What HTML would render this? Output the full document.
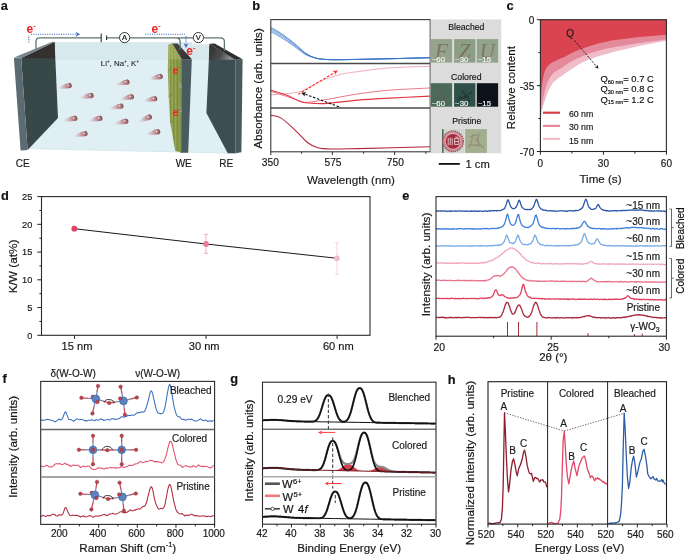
<!DOCTYPE html>
<html><head><meta charset="utf-8"><style>
html,body{margin:0;padding:0;background:#fff;}
svg{display:block;font-family:"Liberation Sans", sans-serif;-webkit-font-smoothing:antialiased;}
text{stroke:currentColor;stroke-width:0.18px;}
body{will-change:transform;}
</style></head><body>
<svg width="685" height="556" viewBox="0 0 685 556">
<rect x="0" y="0" width="685" height="556" fill="#fff"/>
<text x="0.80" y="10.00" font-size="12.8" text-anchor="start" font-weight="bold" fill="#111" style="color:#111" >a</text>
<defs>
<linearGradient id="ion" x1="-12" y1="0" x2="2.6" y2="0" gradientUnits="userSpaceOnUse">
<stop offset="0" stop-color="#d8a8b0" stop-opacity="0"/>
<stop offset="0.45" stop-color="#c48c94" stop-opacity="0.6"/>
<stop offset="0.75" stop-color="#b27a80"/>
<stop offset="1" stop-color="#9a6464"/>
</linearGradient>
<radialGradient id="ionh" cx="0.5" cy="0.5" r="0.5">
<stop offset="0" stop-color="#fff" stop-opacity="0.9"/>
<stop offset="1" stop-color="#fff" stop-opacity="0"/>
</radialGradient>
<linearGradient id="retop" x1="0" y1="0" x2="1" y2="0.3">
<stop offset="0" stop-color="#2e2c2c"/>
<stop offset="0.6" stop-color="#4a4c4c"/>
<stop offset="1" stop-color="#8a9696"/>
</linearGradient>
<linearGradient id="film" x1="167.8" y1="0" x2="182" y2="0" gradientUnits="userSpaceOnUse">
<stop offset="0" stop-color="#93a050"/>
<stop offset="0.12" stop-color="#a4b060"/>
<stop offset="0.2" stop-color="#7f8e44"/>
<stop offset="0.32" stop-color="#9cab58"/>
<stop offset="0.42" stop-color="#788a40"/>
<stop offset="0.55" stop-color="#98a854"/>
<stop offset="0.68" stop-color="#7a8a42"/>
<stop offset="0.8" stop-color="#92a250"/>
<stop offset="1" stop-color="#6c7c3a"/>
</linearGradient>
<linearGradient id="wetop" x1="0" y1="0" x2="1" y2="0">
<stop offset="0" stop-color="#4a4a42"/>
<stop offset="1" stop-color="#2c2c2c"/>
</linearGradient>
</defs>
<polygon points="54.60,42.20 192.00,42.20 192.00,44.50 210.00,44.50 236.00,59.70 236.00,153.50 27.60,148.90 58.00,118.00" fill="#e0eff3" />
<polygon points="54.60,42.20 192.00,42.20 192.00,44.50 210.00,44.50 236.00,59.20 54.80,59.20" fill="#d8e9ee" />
<line x1="55.00" y1="59.10" x2="236.00" y2="59.10" stroke="#cfe6ec" stroke-width="0.8" />
<line x1="27.60" y1="148.60" x2="236.00" y2="153.20" stroke="#d4e8ee" stroke-width="0.8" />
<polygon points="21.20,58.20 54.60,42.00 58.00,118.00 27.60,150.10" fill="#384849" />
<polygon points="21.20,58.20 54.60,42.00 54.90,58.20" fill="#33302f" />
<polygon points="13.90,57.90 21.20,58.20 27.60,150.10 20.60,150.50" fill="#5b6b71" />
<polygon points="13.90,57.60 52.30,41.80 54.60,42.00 21.20,58.00" fill="#77858a" />
<g transform="translate(69.0,85.7) rotate(-9)"><path d="M-12,0.9 Q-5,-2.8 0,-2.6 A2.6,2.6 0 1 1 0,2.6 Q-5,2.7 -12,0.9 Z" fill="url(#ion)"/><path d="M0.8,-2.4 A2.6,2.6 0 0 1 0.8,2.4" stroke="#6a4640" stroke-width="0.9" fill="none" opacity="0.75"/><circle cx="-1.0" cy="-0.6" r="1.4" fill="url(#ionh)"/></g>
<g transform="translate(126.8,82.2) rotate(-9)"><path d="M-12,0.9 Q-5,-2.8 0,-2.6 A2.6,2.6 0 1 1 0,2.6 Q-5,2.7 -12,0.9 Z" fill="url(#ion)"/><path d="M0.8,-2.4 A2.6,2.6 0 0 1 0.8,2.4" stroke="#6a4640" stroke-width="0.9" fill="none" opacity="0.75"/><circle cx="-1.0" cy="-0.6" r="1.4" fill="url(#ionh)"/></g>
<g transform="translate(160.1,76.6) rotate(-9)"><path d="M-12,0.9 Q-5,-2.8 0,-2.6 A2.6,2.6 0 1 1 0,2.6 Q-5,2.7 -12,0.9 Z" fill="url(#ion)"/><path d="M0.8,-2.4 A2.6,2.6 0 0 1 0.8,2.4" stroke="#6a4640" stroke-width="0.9" fill="none" opacity="0.75"/><circle cx="-1.0" cy="-0.6" r="1.4" fill="url(#ionh)"/></g>
<g transform="translate(90.9,95.6) rotate(-9)"><path d="M-12,0.9 Q-5,-2.8 0,-2.6 A2.6,2.6 0 1 1 0,2.6 Q-5,2.7 -12,0.9 Z" fill="url(#ion)"/><path d="M0.8,-2.4 A2.6,2.6 0 0 1 0.8,2.4" stroke="#6a4640" stroke-width="0.9" fill="none" opacity="0.75"/><circle cx="-1.0" cy="-0.6" r="1.4" fill="url(#ionh)"/></g>
<g transform="translate(131.2,96.9) rotate(-9)"><path d="M-12,0.9 Q-5,-2.8 0,-2.6 A2.6,2.6 0 1 1 0,2.6 Q-5,2.7 -12,0.9 Z" fill="url(#ion)"/><path d="M0.8,-2.4 A2.6,2.6 0 0 1 0.8,2.4" stroke="#6a4640" stroke-width="0.9" fill="none" opacity="0.75"/><circle cx="-1.0" cy="-0.6" r="1.4" fill="url(#ionh)"/></g>
<g transform="translate(154.5,98.8) rotate(-9)"><path d="M-12,0.9 Q-5,-2.8 0,-2.6 A2.6,2.6 0 1 1 0,2.6 Q-5,2.7 -12,0.9 Z" fill="url(#ion)"/><path d="M0.8,-2.4 A2.6,2.6 0 0 1 0.8,2.4" stroke="#6a4640" stroke-width="0.9" fill="none" opacity="0.75"/><circle cx="-1.0" cy="-0.6" r="1.4" fill="url(#ionh)"/></g>
<g transform="translate(120.7,106.2) rotate(-9)"><path d="M-12,0.9 Q-5,-2.8 0,-2.6 A2.6,2.6 0 1 1 0,2.6 Q-5,2.7 -12,0.9 Z" fill="url(#ion)"/><path d="M0.8,-2.4 A2.6,2.6 0 0 1 0.8,2.4" stroke="#6a4640" stroke-width="0.9" fill="none" opacity="0.75"/><circle cx="-1.0" cy="-0.6" r="1.4" fill="url(#ionh)"/></g>
<g transform="translate(74.6,118.4) rotate(-9)"><path d="M-12,0.9 Q-5,-2.8 0,-2.6 A2.6,2.6 0 1 1 0,2.6 Q-5,2.7 -12,0.9 Z" fill="url(#ion)"/><path d="M0.8,-2.4 A2.6,2.6 0 0 1 0.8,2.4" stroke="#6a4640" stroke-width="0.9" fill="none" opacity="0.75"/><circle cx="-1.0" cy="-0.6" r="1.4" fill="url(#ionh)"/></g>
<g transform="translate(99.7,118.4) rotate(-9)"><path d="M-12,0.9 Q-5,-2.8 0,-2.6 A2.6,2.6 0 1 1 0,2.6 Q-5,2.7 -12,0.9 Z" fill="url(#ion)"/><path d="M0.8,-2.4 A2.6,2.6 0 0 1 0.8,2.4" stroke="#6a4640" stroke-width="0.9" fill="none" opacity="0.75"/><circle cx="-1.0" cy="-0.6" r="1.4" fill="url(#ionh)"/></g>
<g transform="translate(125.6,121.4) rotate(-9)"><path d="M-12,0.9 Q-5,-2.8 0,-2.6 A2.6,2.6 0 1 1 0,2.6 Q-5,2.7 -12,0.9 Z" fill="url(#ion)"/><path d="M0.8,-2.4 A2.6,2.6 0 0 1 0.8,2.4" stroke="#6a4640" stroke-width="0.9" fill="none" opacity="0.75"/><circle cx="-1.0" cy="-0.6" r="1.4" fill="url(#ionh)"/></g>
<g transform="translate(149.2,117.2) rotate(-20)"><path d="M-12,0.9 Q-5,-2.8 0,-2.6 A2.6,2.6 0 1 1 0,2.6 Q-5,2.7 -12,0.9 Z" fill="url(#ion)"/><path d="M0.8,-2.4 A2.6,2.6 0 0 1 0.8,2.4" stroke="#6a4640" stroke-width="0.9" fill="none" opacity="0.75"/><circle cx="-1.0" cy="-0.6" r="1.4" fill="url(#ionh)"/></g>
<g transform="translate(84.8,133.7) rotate(-9)"><path d="M-12,0.9 Q-5,-2.8 0,-2.6 A2.6,2.6 0 1 1 0,2.6 Q-5,2.7 -12,0.9 Z" fill="url(#ion)"/><path d="M0.8,-2.4 A2.6,2.6 0 0 1 0.8,2.4" stroke="#6a4640" stroke-width="0.9" fill="none" opacity="0.75"/><circle cx="-1.0" cy="-0.6" r="1.4" fill="url(#ionh)"/></g>
<g transform="translate(157.5,131.9) rotate(-9)"><path d="M-12,0.9 Q-5,-2.8 0,-2.6 A2.6,2.6 0 1 1 0,2.6 Q-5,2.7 -12,0.9 Z" fill="url(#ion)"/><path d="M0.8,-2.4 A2.6,2.6 0 0 1 0.8,2.4" stroke="#6a4640" stroke-width="0.9" fill="none" opacity="0.75"/><circle cx="-1.0" cy="-0.6" r="1.4" fill="url(#ionh)"/></g>
<polygon points="182.00,59.80 191.80,59.30 188.20,152.70 180.40,152.70" fill="#4a5b60" />
<polygon points="171.30,43.50 177.60,43.40 191.80,59.30 182.00,59.80" fill="url(#wetop)" />
<polygon points="168.30,44.40 172.60,43.90 182.00,59.80 181.60,152.50 175.20,151.00 170.20,122.00 168.60,96.00 167.80,70.00" fill="url(#film)" />
<polygon points="168.30,44.40 172.60,43.90 182.00,59.80 181.60,59.30 168.20,59.30" fill="#b4bc70" opacity="0.45"/>
<path d="M168.4,70.5 l3.2,-2.4 M168.6,96.5 l3.6,-2.6 M170.2,122.5 l3.4,-2.4" stroke="#5e6e2e" stroke-width="0.8" fill="none" opacity="0.8"/>
<path d="M179.5,83 l1.5,5 M179.5,107 l1.5,5" stroke="#b0b8b8" stroke-width="1.1" fill="none" opacity="0.7"/>
<polygon points="209.60,44.00 235.40,59.70 235.40,153.30 227.80,153.30 206.40,113.00" fill="#3d4e52" />
<polygon points="209.60,44.00 235.40,59.70 208.90,59.70" fill="url(#retop)" />
<polygon points="235.40,59.70 242.60,59.30 241.40,152.20 235.40,153.30" fill="#485a5e" />
<polygon points="209.60,43.80 214.60,43.40 242.60,59.30 235.40,59.80" fill="#2e2e2e" />
<path d="M36,49 V41.5 Q36,37.8 39.8,37.8 H101.2 M106.6,37.8 H119.5 M129.7,37.8 H176 Q180.1,37.8 180.1,42 V50 M176,37.8 H193 M203.8,37.8 H220.5 Q224.4,37.8 224.4,41.7 V51" stroke="#5f7474" stroke-width="1.3" fill="none"/>
<line x1="101.20" y1="33.40" x2="101.20" y2="42.20" stroke="#333" stroke-width="1.1" />
<line x1="106.60" y1="35.60" x2="106.60" y2="40.00" stroke="#333" stroke-width="1.1" />
<circle cx="124.6" cy="37.6" r="5.1" fill="#fff" stroke="#222" stroke-width="0.9"/>
<text x="124.6" y="40.4" font-size="7.6" text-anchor="middle" fill="#111">A</text>
<circle cx="198.4" cy="37.6" r="5.1" fill="#fff" stroke="#222" stroke-width="0.9"/>
<text x="198.4" y="40.4" font-size="7.6" text-anchor="middle" fill="#111">V</text>
<path d="M28.8,42.5 V35.2 M31,34.3 H76" stroke="#3f6fbf" stroke-width="1.1" fill="none" stroke-dasharray="1.1,1.2"/>
<polygon points="80.20,34.30 75.50,31.80 76.80,34.30 75.50,36.80" fill="#3f6fbf" />
<path d="M145.1,34.3 H185 M186,36 V43.5" stroke="#3f6fbf" stroke-width="1.1" fill="none" stroke-dasharray="1.1,1.2"/>
<polygon points="186.00,48.00 183.60,43.30 186.00,44.50 188.40,43.30" fill="#3f6fbf" />
<text x="26.6" y="33.3" font-size="12" font-weight="bold" fill="#ee2222" style="stroke:none">e<tspan font-size="7.2" dy="-5.0">-</tspan></text>
<text x="151.6" y="32.5" font-size="12" font-weight="bold" fill="#ee2222" style="stroke:none">e<tspan font-size="7.2" dy="-5.0">-</tspan></text>
<text x="186.2" y="55.2" font-size="12" font-weight="bold" fill="#ee2222" style="stroke:none">e<tspan font-size="7.2" dy="-5.0">-</tspan></text>
<text x="172.4" y="73.8" font-size="11" font-weight="bold" fill="#ee2222" style="stroke:none">e<tspan font-size="6.6" dy="-4.6">-</tspan></text>
<text x="172.4" y="115.8" font-size="11" font-weight="bold" fill="#ee2222" style="stroke:none">e<tspan font-size="6.6" dy="-4.6">-</tspan></text>
<text x="100.8" y="66.3" font-size="7.9" fill="#222" style="stroke-width:0.08px">Li<tspan font-size="4.5" dy="-3">+</tspan><tspan dy="3">, Na</tspan><tspan font-size="4.5" dy="-3">+</tspan><tspan dy="3">, K</tspan><tspan font-size="4.5" dy="-3">+</tspan></text>
<text x="15.80" y="166.70" font-size="10" text-anchor="start" font-weight="normal" fill="#1a1a1a" style="color:#1a1a1a" >CE</text>
<text x="183.70" y="166.90" font-size="10" text-anchor="middle" font-weight="normal" fill="#1a1a1a" style="color:#1a1a1a" >WE</text>
<text x="226.30" y="166.90" font-size="10" text-anchor="middle" font-weight="normal" fill="#1a1a1a" style="color:#1a1a1a" >RE</text>
<text x="252.30" y="9.80" font-size="12.8" text-anchor="start" font-weight="bold" fill="#111" style="color:#111" >b</text>
<path d="M270.90,31.80 C272.60,32.74 277.20,35.04 281.10,37.46 C285.00,39.88 290.35,43.55 294.30,46.33 C298.25,49.10 301.73,52.31 304.80,54.13 C307.87,55.95 310.07,56.42 312.70,57.24 C315.33,58.05 317.10,58.59 320.60,59.00 C324.10,59.41 327.47,59.63 333.70,59.70 C339.93,59.77 347.78,59.58 358.00,59.40 C368.22,59.22 383.02,58.88 395.00,58.60 C406.98,58.32 424.08,57.85 429.90,57.70" fill="none" stroke="#4a84d0" stroke-width="0.8" />
<path d="M270.90,30.40 C272.60,31.36 277.20,33.65 281.10,36.14 C285.00,38.63 290.35,42.43 294.30,45.34 C298.25,48.25 301.73,51.63 304.80,53.60 C307.87,55.57 310.07,56.26 312.70,57.16 C315.33,58.06 317.10,58.58 320.60,59.00 C324.10,59.42 327.47,59.63 333.70,59.70 C339.93,59.77 347.78,59.58 358.00,59.40 C368.22,59.22 383.02,58.88 395.00,58.60 C406.98,58.32 424.08,57.85 429.90,57.70" fill="none" stroke="#5a90d6" stroke-width="0.8" />
<path d="M270.90,28.95 C272.60,29.92 277.20,32.21 281.10,34.77 C285.00,37.33 290.35,41.27 294.30,44.32 C298.25,47.37 301.73,50.92 304.80,53.05 C307.87,55.18 310.07,56.09 312.70,57.08 C315.33,58.07 317.10,58.56 320.60,59.00 C324.10,59.44 327.47,59.63 333.70,59.70 C339.93,59.77 347.78,59.58 358.00,59.40 C368.22,59.22 383.02,58.88 395.00,58.60 C406.98,58.32 424.08,57.85 429.90,57.70" fill="none" stroke="#4a86d0" stroke-width="0.8" />
<path d="M270.90,27.50 C272.60,28.48 277.20,30.77 281.10,33.40 C285.00,36.03 290.35,40.12 294.30,43.30 C298.25,46.48 301.73,50.22 304.80,52.50 C307.87,54.78 310.07,55.92 312.70,57.00 C315.33,58.08 317.10,58.55 320.60,59.00 C324.10,59.45 327.47,59.63 333.70,59.70 C339.93,59.77 347.78,59.58 358.00,59.40 C368.22,59.22 383.02,58.88 395.00,58.60 C406.98,58.32 424.08,57.85 429.90,57.70" fill="none" stroke="#2f6cbf" stroke-width="0.8" />
<path d="M270.90,94.80 C273.70,94.58 282.48,94.15 287.70,93.50 C292.92,92.85 296.72,92.98 302.20,90.90 C307.68,88.82 314.25,83.73 320.60,81.00 C326.95,78.27 334.07,76.07 340.30,74.50 C346.53,72.93 349.82,72.70 358.00,71.60 C366.18,70.50 377.42,68.78 389.40,67.90 C401.38,67.02 423.15,66.57 429.90,66.30" fill="none" stroke="#f2a9b8" stroke-width="1.0" />
<path d="M270.90,91.50 C273.70,92.38 282.70,95.15 287.70,96.80 C292.70,98.45 297.62,100.48 300.90,101.40 C304.18,102.32 303.03,102.63 307.40,102.30 C311.77,101.97 318.67,100.80 327.10,99.40 C335.53,98.00 347.62,95.43 358.00,93.90 C368.38,92.37 377.42,91.18 389.40,90.20 C401.38,89.22 423.15,88.37 429.90,88.00" fill="none" stroke="#e8788c" stroke-width="1.0" />
<path d="M270.90,90.20 C273.70,91.08 282.70,93.57 287.70,95.50 C292.70,97.43 296.52,100.48 300.90,101.80 C305.28,103.12 309.63,103.13 314.00,103.40 C318.37,103.67 319.77,103.95 327.10,103.40 C334.43,102.85 347.62,100.98 358.00,100.10 C368.38,99.22 377.42,98.77 389.40,98.10 C401.38,97.43 423.15,96.43 429.90,96.10" fill="none" stroke="#e2343f" stroke-width="1.1" />
<path d="M270.90,115.20 C272.60,115.68 277.20,115.75 281.10,118.10 C285.00,120.45 289.92,125.23 294.30,129.30 C298.68,133.37 303.47,139.43 307.40,142.50 C311.33,145.57 313.95,146.62 317.90,147.70 C321.85,148.78 324.42,148.85 331.10,149.00 C337.78,149.15 341.53,148.97 358.00,148.60 C374.47,148.23 417.92,147.10 429.90,146.80" fill="none" stroke="#b0283a" stroke-width="1.1" />
<line x1="298.20" y1="94.40" x2="333.94" y2="72.92" stroke="#ff2a2a" stroke-width="1.1" stroke-dasharray="2.6,1.6"/>
<polygon points="337.80,70.60 335.08,74.80 334.71,72.45 332.81,71.03" fill="#ff2a2a" />
<line x1="339.00" y1="106.80" x2="305.52" y2="94.37" stroke="#111" stroke-width="1.1" stroke-dasharray="2.6,1.6"/>
<polygon points="301.30,92.80 306.28,92.30 304.67,94.05 304.75,96.43" fill="#111" />
<rect x="270.8" y="19.6" width="159.39999999999998" height="132.20000000000002" fill="none" stroke="#3a3a3a" stroke-width="1.1"/>
<line x1="270.80" y1="63.50" x2="430.20" y2="63.50" stroke="#4a4a4a" stroke-width="1.6" />
<line x1="270.80" y1="108.00" x2="430.20" y2="108.00" stroke="#4a4a4a" stroke-width="1.6" />
<line x1="270.80" y1="151.80" x2="270.80" y2="155.00" stroke="#333" stroke-width="1" />
<line x1="332.40" y1="151.80" x2="332.40" y2="155.00" stroke="#333" stroke-width="1" />
<line x1="394.60" y1="151.80" x2="394.60" y2="155.00" stroke="#333" stroke-width="1" />
<line x1="301.60" y1="151.80" x2="301.60" y2="153.80" stroke="#333" stroke-width="1" />
<line x1="363.50" y1="151.80" x2="363.50" y2="153.80" stroke="#333" stroke-width="1" />
<line x1="425.80" y1="151.80" x2="425.80" y2="153.80" stroke="#333" stroke-width="1" />
<text x="270.30" y="165.60" font-size="10.2" text-anchor="middle" font-weight="normal" fill="#1a1a1a" style="color:#1a1a1a" >350</text>
<text x="333.00" y="165.60" font-size="10.2" text-anchor="middle" font-weight="normal" fill="#1a1a1a" style="color:#1a1a1a" >575</text>
<text x="395.30" y="165.60" font-size="10.2" text-anchor="middle" font-weight="normal" fill="#1a1a1a" style="color:#1a1a1a" >750</text>
<text x="351.00" y="183.60" font-size="11.6" text-anchor="middle" font-weight="normal" fill="#1a1a1a" style="color:#1a1a1a" >Wavelength (nm)</text>
<text transform="translate(262.20,88.50) rotate(-90)" font-size="11.6" text-anchor="middle" fill="#1a1a1a">Absorbance (arb. units)</text>
<rect x="430.6" y="19.4" width="70.6" height="133.9" fill="#dcdcdc"/>
<text x="466.30" y="29.80" font-size="8.7" text-anchor="middle" font-weight="normal" fill="#1a1a1a" style="color:#1a1a1a" >Bleached</text>
<text x="466.30" y="79.50" font-size="8.7" text-anchor="middle" font-weight="normal" fill="#1a1a1a" style="color:#1a1a1a" >Colored</text>
<text x="466.80" y="123.90" font-size="8.7" text-anchor="middle" font-weight="normal" fill="#1a1a1a" style="color:#1a1a1a" >Pristine</text>
<rect x="430.8" y="39.1" width="21.3" height="23.5" fill="#94a48c"/>
<text x="441.40000000000003" y="58" font-size="21" text-anchor="middle" font-family="Liberation Serif" font-style="italic" fill="#76604f" fill-opacity="0.7" style="stroke:none">F</text>
<text x="431.80" y="61.60" font-size="7.8" text-anchor="start" font-weight="normal" fill="#f6f6f6" style="color:#f6f6f6" >~60</text>
<rect x="454.1" y="39.1" width="21.3" height="23.5" fill="#8c9e86"/>
<text x="464.70000000000005" y="58" font-size="21" text-anchor="middle" font-family="Liberation Serif" font-style="italic" fill="#76604f" fill-opacity="0.7" style="stroke:none">Z</text>
<text x="455.10" y="61.60" font-size="7.8" text-anchor="start" font-weight="normal" fill="#f6f6f6" style="color:#f6f6f6" >~30</text>
<rect x="476.8" y="39.1" width="21.3" height="23.5" fill="#92a38c"/>
<text x="487.40000000000003" y="58" font-size="21" text-anchor="middle" font-family="Liberation Serif" font-style="italic" fill="#76604f" fill-opacity="0.7" style="stroke:none">U</text>
<text x="477.80" y="61.60" font-size="7.8" text-anchor="start" font-weight="normal" fill="#f6f6f6" style="color:#f6f6f6" >~15</text>
<rect x="430.8" y="83.2" width="21.3" height="23.5" fill="#4b6a58"/>
<text x="431.80" y="105.60" font-size="7.8" text-anchor="start" font-weight="normal" fill="#f6f6f6" style="color:#f6f6f6" >~60</text>
<rect x="454.1" y="83.2" width="21.3" height="23.5" fill="#2f5048"/>
<text x="455.10" y="105.60" font-size="7.8" text-anchor="start" font-weight="normal" fill="#f6f6f6" style="color:#f6f6f6" >~30</text>
<rect x="476.8" y="83.2" width="21.3" height="23.5" fill="#0b121a"/>
<text x="477.80" y="105.60" font-size="7.8" text-anchor="start" font-weight="normal" fill="#f6f6f6" style="color:#f6f6f6" >~15</text>
<path d="M437,100 q3,-10 7,-12 M436,94 q6,2 9,8 M441,90 q2,6 6,10" stroke="#6a5a50" stroke-width="1.1" fill="none" opacity="0.45"/>
<path d="M458,100 q8,-4 14,-8 M462,90 q4,6 8,12 M459,97 q6,2 10,-1" stroke="#1c2c28" stroke-width="1.4" fill="none" opacity="0.6"/>
<rect x="442" y="129.1" width="21.9" height="23.8" fill="#cdd6cf"/>
<rect x="442" y="129.1" width="1.6" height="23.8" fill="#556a5e"/>
<circle cx="453" cy="141.3" r="10.4" fill="#c98a94"/>
<circle cx="453" cy="141.3" r="10.4" fill="none" stroke="#a83848" stroke-width="1.2" stroke-dasharray="1.2,1"/>
<circle cx="453" cy="141.3" r="8.2" fill="#dcb8bd"/>
<circle cx="453" cy="141.3" r="7.4" fill="#a42a3c"/>
<path d="M448.2,138 v7.2 M450.2,137.4 v7.8 M452.2,138 v7.2 M454.6,138.6 h4.2 v5.8 h-4.2z M454.6,141.5 h4.2 M455.2,137.2 h3" stroke="#f2e4e4" stroke-width="0.8" fill="none"/>
<rect x="465.2" y="129.1" width="21.7" height="23.8" fill="#a3ae8f"/>
<path d="M470,137 q6,-3 10,-1 M473,134 q-1,8 -4,14 M476,138 q2,6 8,10 M479,133 q-2,8 0,12 M468,146 q6,-2 12,0" stroke="#8a6c60" stroke-width="1.3" fill="none" opacity="0.45"/>
<line x1="438.80" y1="163.90" x2="459.80" y2="163.90" stroke="#111" stroke-width="1.8" />
<text x="465.50" y="167.60" font-size="11.2" text-anchor="start" font-weight="normal" fill="#1a1a1a" style="color:#1a1a1a" >1 cm</text>
<text x="506.60" y="10.00" font-size="12.8" text-anchor="start" font-weight="bold" fill="#111" style="color:#111" >c</text>
<path d="M666.40,40.80 C661.17,41.82 645.23,44.67 635.00,46.90 C624.77,49.13 613.27,51.85 605.00,54.20 C596.73,56.55 590.77,58.67 585.40,61.00 C580.03,63.33 576.53,65.88 572.80,68.20 C569.07,70.52 566.10,72.68 563.00,74.90 C559.90,77.12 556.38,79.32 554.20,81.50 C552.02,83.68 551.17,85.68 549.90,88.00 C548.63,90.32 547.60,92.82 546.60,95.40 C545.60,97.98 544.70,100.72 543.90,103.50 C543.10,106.28 542.35,109.35 541.80,112.10 C541.25,114.85 540.80,118.68 540.60,120.00 L540.4,19.7 L666.4,19.7 Z" fill="#f0bcc8"/>
<path d="M666.40,39.60 C661.17,40.30 645.23,42.22 635.00,43.80 C624.77,45.38 613.27,47.23 605.00,49.10 C596.73,50.97 590.77,53.05 585.40,55.00 C580.03,56.95 576.53,58.82 572.80,60.80 C569.07,62.78 566.10,64.95 563.00,66.90 C559.90,68.85 556.57,70.40 554.20,72.50 C551.83,74.60 550.25,76.83 548.80,79.50 C547.35,82.17 546.50,85.03 545.50,88.50 C544.50,91.97 543.52,96.90 542.80,100.30 C542.08,103.70 541.57,106.78 541.20,108.90 C540.83,111.02 540.70,112.32 540.60,113.00 L540.4,19.7 L666.4,19.7 Z" fill="#e58a9c"/>
<path d="M666.40,34.80 C661.17,35.27 645.23,36.42 635.00,37.60 C624.77,38.78 613.27,40.27 605.00,41.90 C596.73,43.53 590.77,45.65 585.40,47.40 C580.03,49.15 576.53,50.70 572.80,52.40 C569.07,54.10 566.10,56.07 563.00,57.60 C559.90,59.13 556.57,60.38 554.20,61.60 C551.83,62.82 550.25,63.58 548.80,64.90 C547.35,66.22 546.40,67.57 545.50,69.50 C544.60,71.43 544.02,73.53 543.40,76.50 C542.78,79.47 542.20,84.05 541.80,87.30 C541.40,90.55 541.20,93.88 541.00,96.00 C540.80,98.12 540.67,99.33 540.60,100.00 L540.4,19.7 L666.4,19.7 Z" fill="#da4450"/>
<rect x="540.4" y="19.7" width="126.0" height="131.8" fill="none" stroke="#2a2a2a" stroke-width="1.1"/>
<line x1="536.90" y1="19.70" x2="540.40" y2="19.70" stroke="#222" stroke-width="1" />
<text x="534.20" y="23.90" font-size="10" text-anchor="end" font-weight="normal" fill="#1a1a1a" style="color:#1a1a1a" >0</text>
<line x1="536.90" y1="85.60" x2="540.40" y2="85.60" stroke="#222" stroke-width="1" />
<text x="534.20" y="89.80" font-size="10" text-anchor="end" font-weight="normal" fill="#1a1a1a" style="color:#1a1a1a" >-35</text>
<line x1="536.90" y1="151.50" x2="540.40" y2="151.50" stroke="#222" stroke-width="1" />
<text x="534.20" y="155.70" font-size="10" text-anchor="end" font-weight="normal" fill="#1a1a1a" style="color:#1a1a1a" >-70</text>
<line x1="538.40" y1="52.60" x2="540.40" y2="52.60" stroke="#222" stroke-width="1" />
<line x1="538.40" y1="118.50" x2="540.40" y2="118.50" stroke="#222" stroke-width="1" />
<line x1="540.40" y1="151.50" x2="540.40" y2="154.70" stroke="#222" stroke-width="1" />
<text x="540.40" y="167.00" font-size="10" text-anchor="middle" font-weight="normal" fill="#1a1a1a" style="color:#1a1a1a" >0</text>
<line x1="603.40" y1="151.50" x2="603.40" y2="154.70" stroke="#222" stroke-width="1" />
<text x="603.40" y="167.00" font-size="10" text-anchor="middle" font-weight="normal" fill="#1a1a1a" style="color:#1a1a1a" >30</text>
<line x1="666.40" y1="151.50" x2="666.40" y2="154.70" stroke="#222" stroke-width="1" />
<text x="666.40" y="167.00" font-size="10" text-anchor="middle" font-weight="normal" fill="#1a1a1a" style="color:#1a1a1a" >60</text>
<line x1="571.90" y1="151.50" x2="571.90" y2="153.50" stroke="#222" stroke-width="1" />
<line x1="634.90" y1="151.50" x2="634.90" y2="153.50" stroke="#222" stroke-width="1" />
<text x="600.50" y="182.80" font-size="11.6" text-anchor="middle" font-weight="normal" fill="#1a1a1a" style="color:#1a1a1a" >Time (s)</text>
<text x="515.3" y="87.6" font-size="11.6" text-anchor="middle" fill="#1a1a1a" transform="rotate(-90 515.3 87.6)">Relative content</text>
<text x="566.30" y="37.00" font-size="10" text-anchor="start" font-weight="normal" fill="#1a1a1a" style="color:#1a1a1a" >Q</text>
<line x1="574.50" y1="40.50" x2="596.04" y2="65.90" stroke="#111" stroke-width="0.9" stroke-dasharray="2,1.4"/>
<polygon points="598.50,68.80 594.67,67.07 596.62,66.59 597.42,64.74" fill="#111" />
<text x="600.4" y="81.9" font-size="9.4" fill="#1a1a1a">Q<tspan font-size="5.6" dy="1.6">60 nm</tspan><tspan dy="-1.6">= 0.7 C</tspan></text>
<text x="600.4" y="92.2" font-size="9.4" fill="#1a1a1a">Q<tspan font-size="5.6" dy="1.6">30 nm</tspan><tspan dy="-1.6">= 0.8 C</tspan></text>
<text x="600.4" y="102.7" font-size="9.4" fill="#1a1a1a">Q<tspan font-size="5.6" dy="1.6">15 nm</tspan><tspan dy="-1.6">= 1.2 C</tspan></text>
<line x1="543.00" y1="112.70" x2="560.00" y2="112.70" stroke="#d8404c" stroke-width="2.2" />
<text x="568.90" y="116.70" font-size="8.8" text-anchor="start" font-weight="normal" fill="#1a1a1a" style="color:#1a1a1a" >60 nm</text>
<line x1="543.00" y1="125.90" x2="560.00" y2="125.90" stroke="#e8899a" stroke-width="2.2" />
<text x="568.90" y="129.80" font-size="8.8" text-anchor="start" font-weight="normal" fill="#1a1a1a" style="color:#1a1a1a" >30 nm</text>
<line x1="543.00" y1="138.90" x2="560.00" y2="138.90" stroke="#f2bcc8" stroke-width="2.2" />
<text x="568.90" y="144.20" font-size="8.8" text-anchor="start" font-weight="normal" fill="#1a1a1a" style="color:#1a1a1a" >15 nm</text>
<text x="0.90" y="200.30" font-size="12.8" text-anchor="start" font-weight="bold" fill="#111" style="color:#111" >d</text>
<rect x="41.5" y="196.6" width="328.5" height="138.70000000000002" fill="none" stroke="#2a2a2a" stroke-width="1.1"/>
<line x1="37.30" y1="196.60" x2="41.50" y2="196.60" stroke="#222" stroke-width="1" />
<text x="32.30" y="199.90" font-size="9.2" text-anchor="end" font-weight="normal" fill="#1a1a1a" style="color:#1a1a1a" >25</text>
<line x1="37.30" y1="224.34" x2="41.50" y2="224.34" stroke="#222" stroke-width="1" />
<text x="32.30" y="227.64" font-size="9.2" text-anchor="end" font-weight="normal" fill="#1a1a1a" style="color:#1a1a1a" >20</text>
<line x1="37.30" y1="252.08" x2="41.50" y2="252.08" stroke="#222" stroke-width="1" />
<text x="32.30" y="255.38" font-size="9.2" text-anchor="end" font-weight="normal" fill="#1a1a1a" style="color:#1a1a1a" >15</text>
<line x1="37.30" y1="279.82" x2="41.50" y2="279.82" stroke="#222" stroke-width="1" />
<text x="32.30" y="283.12" font-size="9.2" text-anchor="end" font-weight="normal" fill="#1a1a1a" style="color:#1a1a1a" >10</text>
<line x1="37.30" y1="307.56" x2="41.50" y2="307.56" stroke="#222" stroke-width="1" />
<text x="32.30" y="310.86" font-size="9.2" text-anchor="end" font-weight="normal" fill="#1a1a1a" style="color:#1a1a1a" >5</text>
<line x1="37.30" y1="335.30" x2="41.50" y2="335.30" stroke="#222" stroke-width="1" />
<text x="32.30" y="338.60" font-size="9.2" text-anchor="end" font-weight="normal" fill="#1a1a1a" style="color:#1a1a1a" >0</text>
<line x1="39.40" y1="210.47" x2="41.50" y2="210.47" stroke="#222" stroke-width="1" />
<line x1="39.40" y1="238.21" x2="41.50" y2="238.21" stroke="#222" stroke-width="1" />
<line x1="39.40" y1="265.95" x2="41.50" y2="265.95" stroke="#222" stroke-width="1" />
<line x1="39.40" y1="293.69" x2="41.50" y2="293.69" stroke="#222" stroke-width="1" />
<line x1="39.40" y1="321.43" x2="41.50" y2="321.43" stroke="#222" stroke-width="1" />
<line x1="74.50" y1="335.30" x2="74.50" y2="338.90" stroke="#222" stroke-width="1" />
<text x="77.00" y="350.30" font-size="11.1" text-anchor="middle" font-weight="normal" fill="#1a1a1a" style="color:#1a1a1a" >15 nm</text>
<line x1="206.00" y1="335.30" x2="206.00" y2="338.90" stroke="#222" stroke-width="1" />
<text x="204.20" y="350.30" font-size="11.1" text-anchor="middle" font-weight="normal" fill="#1a1a1a" style="color:#1a1a1a" >30 nm</text>
<line x1="337.10" y1="335.30" x2="337.10" y2="338.90" stroke="#222" stroke-width="1" />
<text x="338.30" y="350.30" font-size="11.1" text-anchor="middle" font-weight="normal" fill="#1a1a1a" style="color:#1a1a1a" >60 nm</text>
<text transform="translate(16.60,266.40) rotate(-90)" font-size="11.8" text-anchor="middle" fill="#1a1a1a">K/W (at%)</text>
<polyline points="74.30,228.70 206.00,244.00 334.50,258.00" fill="none" stroke="#1a1a1a" stroke-width="1.0" stroke-linejoin="round" />
<line x1="206.00" y1="234.40" x2="206.00" y2="253.30" stroke="#eca0b2" stroke-width="0.8" />
<line x1="204.10" y1="234.40" x2="207.90" y2="234.40" stroke="#eca0b2" stroke-width="0.9" />
<line x1="204.10" y1="253.30" x2="207.90" y2="253.30" stroke="#eca0b2" stroke-width="0.9" />
<line x1="336.90" y1="242.70" x2="336.90" y2="274.20" stroke="#f4cad6" stroke-width="0.8" />
<line x1="335.00" y1="242.70" x2="338.80" y2="242.70" stroke="#f4cad6" stroke-width="0.9" />
<line x1="335.00" y1="274.20" x2="338.80" y2="274.20" stroke="#f4cad6" stroke-width="0.9" />
<circle cx="74.3" cy="228.7" r="2.9" fill="#dc4562"/>
<circle cx="206" cy="244" r="2.9" fill="#e6809a"/>
<circle cx="336.9" cy="258.3" r="2.9" fill="#eebcca"/>
<text x="402.20" y="200.30" font-size="12.8" text-anchor="start" font-weight="bold" fill="#111" style="color:#111" >e</text>
<polyline points="436.00,211.05 436.70,210.93 437.40,211.28 438.10,210.88 438.80,211.20 439.50,211.08 440.20,210.86 440.90,211.18 441.60,210.85 442.30,211.13 443.00,210.87 443.70,210.89 444.40,211.12 445.10,211.40 445.80,210.91 446.50,210.98 447.20,211.26 447.90,211.48 448.60,211.22 449.30,211.09 450.00,211.50 450.70,210.85 451.40,211.42 452.10,211.02 452.80,210.91 453.50,210.90 454.20,211.03 454.90,211.38 455.60,210.94 456.30,211.22 457.00,211.26 457.70,211.07 458.40,211.19 459.10,210.85 459.80,210.85 460.50,210.95 461.20,211.28 461.90,211.10 462.60,211.02 463.30,211.21 464.00,211.12 464.70,211.01 465.40,211.35 466.10,211.28 466.80,210.96 467.50,211.19 468.20,211.16 468.90,211.40 469.60,211.30 470.30,210.98 471.00,211.47 471.70,210.86 472.40,211.07 473.10,211.30 473.80,210.88 474.50,211.11 475.20,210.79 475.90,211.23 476.60,211.30 477.30,211.16 478.00,211.37 478.70,210.97 479.40,211.23 480.10,211.16 480.80,211.14 481.50,211.05 482.20,211.32 482.90,211.38 483.60,211.05 484.30,211.17 485.00,210.75 485.70,211.19 486.40,211.14 487.10,211.37 487.80,211.24 488.50,210.86 489.20,210.92 489.90,211.10 490.60,210.64 491.30,210.93 492.00,210.70 492.70,210.65 493.40,210.59 494.10,211.06 494.80,210.58 495.50,210.63 496.20,210.69 496.90,210.98 497.60,210.38 498.30,210.57 499.00,210.56 499.70,210.70 500.40,210.54 501.10,210.42 501.80,209.81 502.50,209.64 503.20,209.25 503.90,209.11 504.60,208.43 505.30,206.77 506.00,205.16 506.70,202.93 507.40,200.54 508.10,199.79 508.80,201.31 509.50,203.46 510.20,205.27 510.90,206.90 511.60,207.70 512.30,208.33 513.00,208.84 513.70,208.71 514.40,208.45 515.10,208.18 515.80,207.60 516.50,206.15 517.20,205.15 517.90,202.85 518.60,200.74 519.30,200.19 520.00,201.64 520.70,204.05 521.40,205.78 522.10,207.48 522.80,207.96 523.50,208.54 524.20,209.03 524.90,209.26 525.60,209.56 526.30,209.47 527.00,209.49 527.70,209.61 528.40,209.54 529.10,209.65 529.80,209.28 530.50,209.68 531.20,209.20 531.90,208.45 532.60,207.89 533.30,207.01 534.00,205.62 534.70,203.42 535.40,201.42 536.10,199.55 536.80,199.38 537.50,201.56 538.20,203.80 538.90,205.77 539.60,207.30 540.30,208.17 541.00,209.19 541.70,209.18 542.40,209.40 543.10,210.29 543.80,210.18 544.50,210.06 545.20,210.45 545.90,210.17 546.60,210.60 547.30,210.97 548.00,210.94 548.70,210.87 549.40,210.60 550.10,210.71 550.80,210.59 551.50,211.04 552.20,210.89 552.90,211.08 553.60,210.78 554.30,210.72 555.00,211.14 555.70,211.27 556.40,211.19 557.10,211.16 557.80,211.17 558.50,211.12 559.20,210.77 559.90,210.97 560.60,210.86 561.30,210.63 562.00,210.63 562.70,210.81 563.40,210.79 564.10,211.09 564.80,211.27 565.50,210.91 566.20,211.24 566.90,211.27 567.60,211.24 568.30,210.81 569.00,210.70 569.70,210.68 570.40,210.64 571.10,210.63 571.80,210.90 572.50,211.06 573.20,210.98 573.90,210.69 574.60,210.76 575.30,210.80 576.00,210.23 576.70,210.54 577.40,210.61 578.10,210.38 578.80,210.18 579.50,209.77 580.20,209.25 580.90,209.27 581.60,208.37 582.30,207.88 583.00,206.81 583.70,204.70 584.40,202.43 585.10,200.44 585.80,199.17 586.50,199.87 587.20,202.17 587.90,204.43 588.60,206.62 589.30,207.70 590.00,208.00 590.70,208.99 591.40,209.43 592.10,209.40 592.80,209.27 593.50,209.39 594.20,208.95 594.90,208.55 595.60,208.66 596.30,207.52 597.00,206.10 597.70,205.00 598.40,204.34 599.10,205.80 599.80,207.31 600.50,208.07 601.20,208.90 601.90,209.45 602.60,209.77 603.30,210.25 604.00,210.20 604.70,210.44 605.40,210.33 606.10,210.95 606.80,210.62 607.50,210.74 608.20,210.86 608.90,211.12 609.60,210.80 610.30,211.16 611.00,210.88 611.70,210.91 612.40,210.91 613.10,210.55 613.80,210.85 614.50,210.66 615.20,210.52 615.90,211.06 616.60,210.60 617.30,210.79 618.00,210.94 618.70,210.80 619.40,210.60 620.10,210.70 620.80,210.69 621.50,210.81 622.20,210.30 622.90,210.57 623.60,210.31 624.30,210.28 625.00,210.58 625.70,210.35 626.40,210.34 627.10,210.43 627.80,210.49 628.50,210.12 629.20,210.20 629.90,210.08 630.60,210.06 631.30,210.15 632.00,209.96 632.70,210.00 633.40,209.94 634.10,210.26 634.80,210.09 635.50,210.21 636.20,210.27 636.90,209.80 637.60,210.03 638.30,210.33 639.00,210.29 639.70,209.83 640.40,209.86 641.10,210.12 641.80,209.91 642.50,210.07 643.20,210.00 643.90,210.47 644.60,210.60 645.30,210.74 646.00,210.27 646.70,210.71 647.40,210.72 648.10,210.41 648.80,210.97 649.50,211.08 650.20,210.59 650.90,211.15 651.60,210.80 652.30,210.89 653.00,211.28 653.70,211.20 654.40,210.75 655.10,210.97 655.80,211.05 656.50,210.94 657.20,210.86 657.90,210.96 658.60,211.26 659.30,210.78 660.00,211.16 660.70,211.09 661.40,210.80 662.10,211.03 662.80,211.24 663.50,211.17 664.20,210.86 664.90,211.50 665.60,211.37 666.30,211.50" fill="none" stroke="#2a5aa6" stroke-width="1.3" stroke-linejoin="round" />
<polyline points="436.00,228.69 436.70,228.81 437.40,228.65 438.10,229.16 438.80,228.81 439.50,228.71 440.20,228.91 440.90,229.25 441.60,229.19 442.30,228.80 443.00,228.72 443.70,229.26 444.40,229.01 445.10,229.10 445.80,228.67 446.50,228.65 447.20,229.09 447.90,228.91 448.60,228.66 449.30,229.26 450.00,229.05 450.70,229.17 451.40,228.66 452.10,229.20 452.80,228.65 453.50,229.21 454.20,228.92 454.90,228.84 455.60,228.98 456.30,229.25 457.00,228.78 457.70,228.68 458.40,228.96 459.10,228.76 459.80,228.67 460.50,228.70 461.20,228.62 461.90,228.73 462.60,228.80 463.30,228.80 464.00,229.11 464.70,228.78 465.40,228.93 466.10,228.70 466.80,228.81 467.50,228.58 468.20,228.74 468.90,228.57 469.60,229.07 470.30,228.94 471.00,228.69 471.70,228.89 472.40,229.20 473.10,228.62 473.80,229.12 474.50,228.84 475.20,228.88 475.90,229.11 476.60,228.80 477.30,228.88 478.00,229.00 478.70,229.20 479.40,228.74 480.10,229.08 480.80,228.99 481.50,228.93 482.20,228.76 482.90,228.71 483.60,228.50 484.30,228.54 485.00,228.49 485.70,228.95 486.40,228.60 487.10,228.52 487.80,228.45 488.50,228.96 489.20,228.97 489.90,228.81 490.60,228.51 491.30,228.46 492.00,228.47 492.70,228.55 493.40,228.31 494.10,228.47 494.80,228.30 495.50,228.73 496.20,228.68 496.90,228.31 497.60,228.01 498.30,228.41 499.00,227.82 499.70,227.69 500.40,227.24 501.10,227.25 501.80,226.96 502.50,226.52 503.20,225.65 503.90,224.93 504.60,223.21 505.30,221.39 506.00,218.53 506.70,215.79 507.40,214.08 508.10,215.39 508.80,218.40 509.50,220.94 510.20,223.01 510.90,224.13 511.60,224.96 512.30,225.23 513.00,225.32 513.70,225.22 514.40,224.34 515.10,223.34 515.80,222.27 516.50,219.40 517.20,216.93 517.90,214.62 518.60,214.46 519.30,217.57 520.00,220.55 520.70,222.66 521.40,224.31 522.10,225.43 522.80,225.68 523.50,226.44 524.20,226.77 524.90,227.23 525.60,227.36 526.30,227.46 527.00,227.32 527.70,227.52 528.40,227.29 529.10,227.16 529.80,226.62 530.50,226.15 531.20,225.74 531.90,225.21 532.60,224.01 533.30,223.02 534.00,220.67 534.70,217.97 535.40,215.47 536.10,214.95 536.80,216.73 537.50,219.24 538.20,222.28 538.90,224.05 539.60,225.13 540.30,226.02 541.00,226.72 541.70,226.74 542.40,227.54 543.10,227.45 543.80,227.52 544.50,227.81 545.20,228.26 545.90,227.99 546.60,228.45 547.30,228.68 548.00,228.40 548.70,228.37 549.40,228.48 550.10,228.66 550.80,228.75 551.50,228.67 552.20,228.72 552.90,228.34 553.60,228.41 554.30,228.50 555.00,228.86 555.70,228.56 556.40,228.76 557.10,228.38 557.80,228.42 558.50,228.57 559.20,228.86 559.90,228.88 560.60,228.87 561.30,228.60 562.00,228.76 562.70,228.72 563.40,228.72 564.10,228.48 564.80,229.02 565.50,228.53 566.20,229.06 566.90,229.03 567.60,228.38 568.30,228.67 569.00,228.91 569.70,229.00 570.40,228.62 571.10,228.47 571.80,228.40 572.50,228.88 573.20,228.33 573.90,228.54 574.60,228.17 575.30,228.37 576.00,228.58 576.70,227.89 577.40,228.23 578.10,227.83 578.80,227.86 579.50,227.41 580.20,226.64 580.90,226.52 581.60,225.41 582.30,224.01 583.00,222.70 583.70,221.85 584.40,221.31 585.10,221.72 585.80,222.81 586.50,224.24 587.20,225.30 587.90,226.49 588.60,226.50 589.30,227.46 590.00,227.85 590.70,227.58 591.40,228.33 592.10,228.33 592.80,228.58 593.50,228.24 594.20,228.37 594.90,228.45 595.60,228.92 596.30,228.68 597.00,228.56 597.70,228.63 598.40,228.55 599.10,228.42 599.80,228.47 600.50,229.00 601.20,228.64 601.90,229.10 602.60,228.63 603.30,228.65 604.00,228.83 604.70,228.62 605.40,228.75 606.10,229.16 606.80,229.11 607.50,229.06 608.20,228.93 608.90,229.13 609.60,229.14 610.30,228.86 611.00,228.97 611.70,228.49 612.40,228.96 613.10,228.74 613.80,228.94 614.50,228.84 615.20,228.56 615.90,228.37 616.60,228.96 617.30,228.36 618.00,228.57 618.70,228.44 619.40,228.36 620.10,228.62 620.80,228.74 621.50,228.19 622.20,228.41 622.90,228.11 623.60,228.23 624.30,228.06 625.00,227.84 625.70,227.78 626.40,227.76 627.10,228.19 627.80,227.85 628.50,227.61 629.20,228.04 629.90,228.06 630.60,227.64 631.30,227.39 632.00,227.40 632.70,227.30 633.40,227.46 634.10,227.28 634.80,227.38 635.50,227.40 636.20,227.63 636.90,227.87 637.60,227.80 638.30,227.59 639.00,227.63 639.70,227.75 640.40,227.69 641.10,227.72 641.80,227.58 642.50,227.78 643.20,228.32 643.90,227.79 644.60,228.12 645.30,228.27 646.00,228.49 646.70,228.09 647.40,228.19 648.10,228.23 648.80,228.39 649.50,228.47 650.20,228.87 650.90,228.84 651.60,228.90 652.30,228.35 653.00,228.39 653.70,228.89 654.40,229.05 655.10,228.79 655.80,228.89 656.50,228.50 657.20,228.79 657.90,229.18 658.60,229.13 659.30,229.16 660.00,229.25 660.70,228.76 661.40,228.67 662.10,228.71 662.80,228.97 663.50,229.09 664.20,229.27 664.90,229.12 665.60,229.07 666.30,229.16" fill="none" stroke="#3d7fda" stroke-width="1.3" stroke-linejoin="round" />
<polyline points="436.00,245.95 436.70,246.01 437.40,245.65 438.10,246.17 438.80,245.79 439.50,246.27 440.20,246.08 440.90,245.84 441.60,245.71 442.30,245.80 443.00,246.07 443.70,246.11 444.40,245.70 445.10,245.67 445.80,245.99 446.50,246.03 447.20,245.89 447.90,245.77 448.60,246.04 449.30,245.62 450.00,245.83 450.70,245.94 451.40,246.29 452.10,246.07 452.80,246.23 453.50,245.95 454.20,245.78 454.90,245.78 455.60,246.28 456.30,246.10 457.00,245.82 457.70,245.62 458.40,245.95 459.10,246.08 459.80,245.90 460.50,245.78 461.20,246.07 461.90,246.25 462.60,245.76 463.30,245.62 464.00,245.83 464.70,245.89 465.40,246.07 466.10,245.73 466.80,246.15 467.50,246.11 468.20,245.94 468.90,245.73 469.60,246.26 470.30,245.80 471.00,246.15 471.70,245.74 472.40,245.73 473.10,246.10 473.80,245.78 474.50,246.23 475.20,245.91 475.90,245.69 476.60,245.71 477.30,245.85 478.00,246.02 478.70,246.21 479.40,245.64 480.10,245.81 480.80,245.68 481.50,246.21 482.20,245.62 482.90,245.55 483.60,245.55 484.30,245.78 485.00,246.12 485.70,246.10 486.40,245.99 487.10,246.17 487.80,246.11 488.50,245.67 489.20,245.56 489.90,246.07 490.60,245.92 491.30,245.40 492.00,245.83 492.70,245.60 493.40,245.57 494.10,245.51 494.80,245.36 495.50,245.20 496.20,245.35 496.90,245.34 497.60,245.69 498.30,245.02 499.00,245.50 499.70,244.83 500.40,244.75 501.10,244.84 501.80,244.51 502.50,243.78 503.20,242.85 503.90,242.16 504.60,240.62 505.30,238.92 506.00,236.07 506.70,235.01 507.40,236.48 508.10,238.12 508.80,240.37 509.50,242.02 510.20,242.84 510.90,242.85 511.60,243.11 512.30,243.21 513.00,243.72 513.70,242.97 514.40,242.79 515.10,242.03 515.80,240.26 516.50,238.21 517.20,236.43 517.90,235.07 518.60,235.99 519.30,238.63 520.00,240.41 520.70,241.83 521.40,242.60 522.10,243.76 522.80,244.29 523.50,244.38 524.20,244.79 524.90,244.27 525.60,244.49 526.30,244.68 527.00,245.00 527.70,244.94 528.40,244.43 529.10,244.15 529.80,244.01 530.50,243.67 531.20,243.39 531.90,242.01 532.60,241.16 533.30,239.26 534.00,237.01 534.70,235.18 535.40,235.24 536.10,237.04 536.80,239.33 537.50,241.16 538.20,242.70 538.90,243.06 539.60,243.72 540.30,244.52 541.00,244.46 541.70,244.56 542.40,244.70 543.10,245.20 543.80,245.14 544.50,245.68 545.20,245.68 545.90,245.81 546.60,245.35 547.30,245.26 548.00,245.30 548.70,245.61 549.40,245.78 550.10,245.62 550.80,245.49 551.50,245.63 552.20,245.79 552.90,245.84 553.60,245.90 554.30,245.97 555.00,245.85 555.70,245.48 556.40,245.98 557.10,245.60 557.80,245.80 558.50,245.66 559.20,245.92 559.90,245.54 560.60,245.57 561.30,245.57 562.00,245.50 562.70,246.00 563.40,245.78 564.10,245.60 564.80,245.64 565.50,246.04 566.20,245.69 566.90,245.48 567.60,245.87 568.30,245.74 569.00,245.96 569.70,245.31 570.40,245.54 571.10,245.74 571.80,245.72 572.50,245.72 573.20,245.05 573.90,245.16 574.60,244.95 575.30,244.90 576.00,245.32 576.70,244.88 577.40,244.92 578.10,244.27 578.80,244.27 579.50,243.51 580.20,242.74 580.90,242.22 581.60,241.08 582.30,238.77 583.00,236.95 583.70,234.84 584.40,233.61 585.10,234.64 585.80,236.56 586.50,238.74 587.20,240.46 587.90,241.90 588.60,242.78 589.30,243.04 590.00,243.29 590.70,243.76 591.40,244.13 592.10,243.81 592.80,243.81 593.50,243.51 594.20,243.50 594.90,242.62 595.60,241.19 596.30,239.79 597.00,238.83 597.70,239.09 598.40,240.51 599.10,241.62 599.80,242.80 600.50,243.94 601.20,244.26 601.90,244.52 602.60,244.79 603.30,245.43 604.00,245.11 604.70,245.40 605.40,245.33 606.10,245.44 606.80,245.81 607.50,245.95 608.20,245.54 608.90,245.46 609.60,245.86 610.30,245.52 611.00,245.40 611.70,246.04 612.40,245.73 613.10,246.02 613.80,245.74 614.50,246.09 615.20,245.80 615.90,245.60 616.60,245.51 617.30,245.89 618.00,245.96 618.70,246.16 619.40,245.59 620.10,245.97 620.80,245.79 621.50,245.89 622.20,245.65 622.90,245.75 623.60,245.92 624.30,246.20 625.00,245.64 625.70,245.91 626.40,246.13 627.10,246.25 627.80,245.71 628.50,245.66 629.20,246.24 629.90,246.26 630.60,245.92 631.30,245.62 632.00,246.23 632.70,245.86 633.40,246.22 634.10,246.03 634.80,246.17 635.50,245.71 636.20,246.15 636.90,245.75 637.60,245.88 638.30,246.19 639.00,246.18 639.70,245.73 640.40,245.76 641.10,245.88 641.80,245.97 642.50,245.88 643.20,245.69 643.90,245.78 644.60,246.12 645.30,246.24 646.00,245.64 646.70,246.01 647.40,246.14 648.10,245.64 648.80,246.20 649.50,245.70 650.20,246.04 650.90,246.00 651.60,246.06 652.30,245.83 653.00,245.91 653.70,246.03 654.40,245.92 655.10,246.08 655.80,245.93 656.50,245.93 657.20,245.64 657.90,246.06 658.60,245.97 659.30,245.79 660.00,246.16 660.70,246.17 661.40,245.95 662.10,245.75 662.80,245.96 663.50,245.70 664.20,245.72 664.90,245.93 665.60,245.69 666.30,245.94" fill="none" stroke="#79abe6" stroke-width="1.3" stroke-linejoin="round" />
<polyline points="436.00,263.01 436.70,262.68 437.40,263.10 438.10,262.72 438.80,263.18 439.50,263.22 440.20,263.03 440.90,262.72 441.60,263.04 442.30,262.95 443.00,263.36 443.70,262.79 444.40,263.30 445.10,263.40 445.80,263.22 446.50,263.28 447.20,262.85 447.90,263.41 448.60,263.07 449.30,263.40 450.00,263.38 450.70,262.85 451.40,263.29 452.10,263.40 452.80,262.80 453.50,263.00 454.20,263.29 454.90,262.87 455.60,263.40 456.30,262.96 457.00,263.35 457.70,262.88 458.40,263.14 459.10,263.43 459.80,262.94 460.50,262.98 461.20,263.16 461.90,263.03 462.60,262.84 463.30,262.94 464.00,262.93 464.70,263.48 465.40,263.30 466.10,263.46 466.80,262.95 467.50,263.39 468.20,262.92 468.90,263.21 469.60,263.29 470.30,263.10 471.00,263.46 471.70,263.24 472.40,263.25 473.10,263.46 473.80,262.91 474.50,263.53 475.20,263.26 475.90,263.09 476.60,263.35 477.30,262.96 478.00,263.44 478.70,263.12 479.40,262.93 480.10,263.17 480.80,262.89 481.50,262.64 482.20,262.97 482.90,262.40 483.60,262.84 484.30,262.34 485.00,262.49 485.70,262.59 486.40,262.17 487.10,262.06 487.80,261.64 488.50,261.23 489.20,261.04 489.90,260.90 490.60,260.98 491.30,260.59 492.00,260.37 492.70,260.34 493.40,259.49 494.10,259.22 494.80,259.16 495.50,258.34 496.20,257.92 496.90,257.73 497.60,257.10 498.30,256.79 499.00,256.19 499.70,255.90 500.40,255.35 501.10,254.50 501.80,254.19 502.50,253.48 503.20,252.63 503.90,252.57 504.60,251.48 505.30,250.82 506.00,250.21 506.70,250.06 507.40,249.74 508.10,249.25 508.80,248.61 509.50,248.22 510.20,247.83 510.90,248.15 511.60,248.05 512.30,247.96 513.00,248.31 513.70,248.41 514.40,249.08 515.10,249.35 515.80,249.50 516.50,250.52 517.20,250.54 517.90,251.55 518.60,252.17 519.30,252.79 520.00,253.42 520.70,254.68 521.40,254.90 522.10,256.03 522.80,257.02 523.50,257.16 524.20,257.87 524.90,258.78 525.60,259.29 526.30,259.92 527.00,260.54 527.70,260.54 528.40,261.03 529.10,261.39 529.80,261.53 530.50,262.40 531.20,262.57 531.90,262.73 532.60,262.42 533.30,263.16 534.00,263.22 534.70,263.13 535.40,263.42 536.10,263.29 536.80,263.19 537.50,263.16 538.20,263.29 538.90,263.19 539.60,263.43 540.30,263.74 541.00,263.72 541.70,263.84 542.40,263.76 543.10,263.46 543.80,263.67 544.50,263.60 545.20,263.85 545.90,263.67 546.60,263.50 547.30,263.76 548.00,264.00 548.70,263.48 549.40,263.95 550.10,263.34 550.80,263.52 551.50,263.51 552.20,263.87 552.90,264.01 553.60,263.88 554.30,263.59 555.00,263.98 555.70,263.60 556.40,263.54 557.10,264.01 557.80,263.82 558.50,263.87 559.20,263.85 559.90,264.08 560.60,263.73 561.30,263.99 562.00,263.89 562.70,264.01 563.40,263.72 564.10,263.93 564.80,263.82 565.50,263.64 566.20,263.58 566.90,263.87 567.60,263.49 568.30,264.08 569.00,263.55 569.70,263.47 570.40,263.53 571.10,264.11 571.80,263.71 572.50,263.57 573.20,263.49 573.90,263.51 574.60,263.97 575.30,263.93 576.00,263.98 576.70,264.01 577.40,263.54 578.10,263.92 578.80,263.76 579.50,264.08 580.20,264.09 580.90,264.14 581.60,263.57 582.30,264.13 583.00,264.17 583.70,264.19 584.40,263.60 585.10,263.64 585.80,263.50 586.50,263.30 587.20,263.61 587.90,263.19 588.60,262.57 589.30,262.19 590.00,261.66 590.70,261.28 591.40,261.30 592.10,261.70 592.80,262.68 593.50,262.80 594.20,263.28 594.90,263.62 595.60,263.50 596.30,263.74 597.00,263.80 597.70,264.12 598.40,263.88 599.10,263.85 599.80,264.31 600.50,263.99 601.20,264.24 601.90,264.08 602.60,263.67 603.30,263.94 604.00,263.96 604.70,264.20 605.40,263.91 606.10,264.16 606.80,264.05 607.50,263.83 608.20,264.29 608.90,263.75 609.60,264.27 610.30,263.82 611.00,263.70 611.70,263.85 612.40,264.24 613.10,264.40 613.80,263.72 614.50,264.06 615.20,264.07 615.90,264.29 616.60,263.86 617.30,264.08 618.00,263.99 618.70,264.33 619.40,263.93 620.10,264.42 620.80,263.96 621.50,263.91 622.20,264.26 622.90,264.12 623.60,263.85 624.30,264.23 625.00,263.84 625.70,264.34 626.40,264.28 627.10,264.35 627.80,264.24 628.50,264.05 629.20,264.09 629.90,264.09 630.60,264.44 631.30,263.88 632.00,264.45 632.70,263.85 633.40,263.98 634.10,264.02 634.80,264.47 635.50,264.20 636.20,264.12 636.90,264.47 637.60,264.02 638.30,264.19 639.00,264.24 639.70,264.40 640.40,264.40 641.10,264.33 641.80,264.13 642.50,264.12 643.20,264.00 643.90,264.49 644.60,264.37 645.30,264.43 646.00,264.03 646.70,264.22 647.40,264.46 648.10,264.33 648.80,264.02 649.50,264.25 650.20,264.55 650.90,264.11 651.60,264.08 652.30,264.16 653.00,264.44 653.70,264.55 654.40,264.07 655.10,264.07 655.80,264.14 656.50,264.20 657.20,264.34 657.90,264.09 658.60,264.22 659.30,264.12 660.00,264.68 660.70,264.51 661.40,264.07 662.10,264.68 662.80,264.08 663.50,264.28 664.20,264.71 664.90,264.58 665.60,264.54 666.30,264.34" fill="none" stroke="#f0a9b9" stroke-width="1.3" stroke-linejoin="round" />
<polyline points="436.00,280.09 436.70,280.40 437.40,280.04 438.10,280.11 438.80,280.24 439.50,280.00 440.20,280.26 440.90,280.54 441.60,280.48 442.30,280.35 443.00,280.45 443.70,280.34 444.40,280.12 445.10,280.45 445.80,280.31 446.50,280.55 447.20,280.68 447.90,280.35 448.60,280.45 449.30,280.58 450.00,280.36 450.70,280.23 451.40,280.58 452.10,280.69 452.80,280.63 453.50,280.58 454.20,280.69 454.90,280.58 455.60,280.56 456.30,280.43 457.00,280.34 457.70,280.56 458.40,280.20 459.10,280.43 459.80,280.69 460.50,280.65 461.20,280.59 461.90,280.33 462.60,280.46 463.30,280.49 464.00,280.61 464.70,280.47 465.40,280.66 466.10,280.84 466.80,280.32 467.50,280.66 468.20,280.75 468.90,280.49 469.60,280.56 470.30,280.91 471.00,280.26 471.70,280.62 472.40,280.35 473.10,280.79 473.80,280.91 474.50,280.62 475.20,280.33 475.90,280.67 476.60,280.65 477.30,280.78 478.00,280.64 478.70,280.74 479.40,280.88 480.10,280.67 480.80,280.59 481.50,280.98 482.20,280.46 482.90,280.80 483.60,280.59 484.30,280.84 485.00,280.37 485.70,280.94 486.40,280.43 487.10,280.12 487.80,280.11 488.50,279.98 489.20,279.41 489.90,279.31 490.60,278.85 491.30,278.51 492.00,277.69 492.70,277.04 493.40,276.47 494.10,276.36 494.80,276.15 495.50,275.65 496.20,275.36 496.90,275.81 497.60,275.65 498.30,275.68 499.00,275.75 499.70,276.27 500.40,276.24 501.10,275.92 501.80,275.47 502.50,275.05 503.20,274.20 503.90,273.99 504.60,272.76 505.30,272.12 506.00,271.38 506.70,270.53 507.40,269.47 508.10,268.62 508.80,268.15 509.50,267.34 510.20,267.45 510.90,266.88 511.60,267.15 512.30,266.83 513.00,267.15 513.70,267.46 514.40,268.12 515.10,268.60 515.80,269.23 516.50,270.56 517.20,271.14 517.90,272.02 518.60,272.98 519.30,274.01 520.00,274.85 520.70,275.82 521.40,276.60 522.10,277.10 522.80,278.12 523.50,278.63 524.20,278.56 524.90,279.51 525.60,279.92 526.30,280.14 527.00,279.93 527.70,280.61 528.40,280.64 529.10,280.33 529.80,280.43 530.50,281.17 531.20,281.02 531.90,280.79 532.60,280.72 533.30,280.78 534.00,280.86 534.70,281.26 535.40,280.97 536.10,280.85 536.80,281.38 537.50,281.31 538.20,280.88 538.90,281.39 539.60,281.20 540.30,281.33 541.00,281.26 541.70,281.42 542.40,281.35 543.10,281.39 543.80,280.95 544.50,281.30 545.20,281.20 545.90,281.35 546.60,281.14 547.30,281.46 548.00,281.23 548.70,281.04 549.40,281.02 550.10,280.96 550.80,281.21 551.50,280.91 552.20,281.21 552.90,280.99 553.60,281.23 554.30,281.25 555.00,281.28 555.70,281.51 556.40,280.92 557.10,281.51 557.80,281.25 558.50,281.32 559.20,281.40 559.90,281.53 560.60,281.21 561.30,281.25 562.00,281.63 562.70,281.02 563.40,281.42 564.10,281.42 564.80,281.00 565.50,281.41 566.20,281.47 566.90,281.65 567.60,281.23 568.30,281.70 569.00,281.37 569.70,281.36 570.40,281.65 571.10,281.05 571.80,281.54 572.50,281.48 573.20,281.28 573.90,281.66 574.60,281.32 575.30,281.40 576.00,281.44 576.70,281.62 577.40,281.23 578.10,281.39 578.80,281.39 579.50,281.49 580.20,281.68 580.90,281.31 581.60,281.69 582.30,281.40 583.00,281.48 583.70,281.32 584.40,281.48 585.10,281.79 585.80,281.52 586.50,281.51 587.20,280.96 587.90,280.57 588.60,280.01 589.30,279.55 590.00,278.95 590.70,278.64 591.40,278.04 592.10,278.81 592.80,279.50 593.50,279.94 594.20,280.21 594.90,280.85 595.60,280.95 596.30,281.24 597.00,281.84 597.70,281.65 598.40,281.70 599.10,281.81 599.80,281.90 600.50,281.69 601.20,281.70 601.90,281.72 602.60,281.77 603.30,281.71 604.00,281.77 604.70,281.45 605.40,281.77 606.10,281.63 606.80,281.85 607.50,281.39 608.20,281.45 608.90,281.36 609.60,281.88 610.30,281.98 611.00,281.81 611.70,281.61 612.40,281.94 613.10,281.92 613.80,281.77 614.50,281.56 615.20,281.60 615.90,281.68 616.60,281.62 617.30,281.70 618.00,281.86 618.70,282.07 619.40,281.46 620.10,281.82 620.80,281.46 621.50,281.52 622.20,282.01 622.90,281.85 623.60,282.09 624.30,281.77 625.00,281.47 625.70,281.74 626.40,281.89 627.10,282.14 627.80,282.17 628.50,281.82 629.20,281.78 629.90,281.57 630.60,281.96 631.30,281.66 632.00,281.62 632.70,281.53 633.40,281.53 634.10,282.01 634.80,281.63 635.50,282.22 636.20,281.61 636.90,282.17 637.60,281.65 638.30,281.58 639.00,282.08 639.70,281.75 640.40,282.10 641.10,281.72 641.80,281.63 642.50,282.14 643.20,282.11 643.90,282.21 644.60,282.13 645.30,281.68 646.00,282.07 646.70,282.13 647.40,281.96 648.10,282.30 648.80,281.83 649.50,282.33 650.20,282.17 650.90,281.68 651.60,281.69 652.30,282.14 653.00,282.26 653.70,281.75 654.40,281.91 655.10,282.21 655.80,281.82 656.50,282.32 657.20,282.06 657.90,281.77 658.60,281.99 659.30,282.14 660.00,282.05 660.70,282.22 661.40,281.85 662.10,282.32 662.80,282.02 663.50,282.22 664.20,282.22 664.90,282.07 665.60,282.06 666.30,282.34" fill="none" stroke="#e8738d" stroke-width="1.3" stroke-linejoin="round" />
<polyline points="436.00,298.69 436.70,298.58 437.40,298.43 438.10,298.24 438.80,298.08 439.50,298.73 440.20,298.54 440.90,298.63 441.60,298.29 442.30,298.48 443.00,298.75 443.70,298.65 444.40,298.49 445.10,298.29 445.80,298.38 446.50,298.70 447.20,298.35 447.90,298.57 448.60,298.51 449.30,298.72 450.00,298.66 450.70,298.30 451.40,298.11 452.10,298.29 452.80,298.41 453.50,298.52 454.20,298.69 454.90,298.74 455.60,298.15 456.30,298.71 457.00,298.70 457.70,298.74 458.40,298.53 459.10,298.33 459.80,298.74 460.50,298.71 461.20,298.62 461.90,298.79 462.60,298.39 463.30,298.21 464.00,298.54 464.70,298.71 465.40,298.30 466.10,298.68 466.80,298.81 467.50,298.32 468.20,298.59 468.90,298.64 469.60,298.49 470.30,298.31 471.00,298.34 471.70,298.69 472.40,298.71 473.10,298.48 473.80,298.22 474.50,298.72 475.20,298.69 475.90,298.31 476.60,298.55 477.30,298.77 478.00,298.75 478.70,298.49 479.40,298.45 480.10,298.52 480.80,298.22 481.50,298.21 482.20,298.19 482.90,298.53 483.60,298.27 484.30,298.38 485.00,298.23 485.70,298.27 486.40,297.96 487.10,297.82 487.80,298.41 488.50,297.87 489.20,297.54 489.90,297.74 490.60,297.60 491.30,296.82 492.00,296.65 492.70,295.76 493.40,294.82 494.10,292.90 494.80,290.90 495.50,289.92 496.20,289.92 496.90,291.31 497.60,293.18 498.30,294.25 499.00,295.34 499.70,295.37 500.40,295.60 501.10,295.03 501.80,294.60 502.50,294.80 503.20,295.05 503.90,295.75 504.60,296.53 505.30,296.97 506.00,297.21 506.70,297.39 507.40,297.89 508.10,298.20 508.80,297.98 509.50,298.37 510.20,298.36 510.90,297.78 511.60,298.14 512.30,297.97 513.00,297.74 513.70,298.26 514.40,297.69 515.10,297.79 515.80,297.69 516.50,297.71 517.20,297.24 517.90,296.69 518.60,296.22 519.30,295.31 520.00,294.84 520.70,293.37 521.40,290.68 522.10,287.76 522.80,285.17 523.50,284.27 524.20,286.33 524.90,289.25 525.60,291.86 526.30,293.26 527.00,295.14 527.70,296.03 528.40,296.65 529.10,297.36 529.80,297.07 530.50,297.40 531.20,298.03 531.90,298.33 532.60,298.28 533.30,298.12 534.00,298.41 534.70,298.60 535.40,298.21 536.10,298.42 536.80,298.42 537.50,298.37 538.20,298.65 538.90,298.47 539.60,298.54 540.30,298.50 541.00,298.90 541.70,298.46 542.40,298.97 543.10,298.62 543.80,298.53 544.50,299.17 545.20,298.69 545.90,299.20 546.60,299.17 547.30,299.19 548.00,298.68 548.70,298.91 549.40,298.67 550.10,299.27 550.80,299.21 551.50,299.07 552.20,298.96 552.90,298.89 553.60,299.24 554.30,299.00 555.00,299.12 555.70,298.78 556.40,298.85 557.10,298.74 557.80,299.20 558.50,299.10 559.20,298.82 559.90,299.33 560.60,298.92 561.30,299.02 562.00,298.85 562.70,298.94 563.40,299.34 564.10,298.99 564.80,298.88 565.50,299.12 566.20,299.00 566.90,299.42 567.60,298.87 568.30,299.48 569.00,298.84 569.70,299.43 570.40,299.28 571.10,298.96 571.80,299.15 572.50,299.03 573.20,299.01 573.90,298.98 574.60,299.09 575.30,299.54 576.00,299.55 576.70,299.50 577.40,298.93 578.10,299.07 578.80,299.50 579.50,298.91 580.20,299.39 580.90,299.09 581.60,299.57 582.30,298.90 583.00,299.46 583.70,299.14 584.40,299.00 585.10,298.91 585.80,299.50 586.50,299.29 587.20,299.05 587.90,299.23 588.60,299.57 589.30,299.09 590.00,299.34 590.70,299.04 591.40,299.07 592.10,299.49 592.80,299.45 593.50,299.10 594.20,299.02 594.90,299.03 595.60,299.40 596.30,299.32 597.00,299.17 597.70,299.13 598.40,299.41 599.10,299.48 599.80,299.56 600.50,299.40 601.20,299.14 601.90,299.05 602.60,299.52 603.30,299.29 604.00,299.52 604.70,299.05 605.40,299.58 606.10,299.25 606.80,299.61 607.50,299.63 608.20,299.37 608.90,299.03 609.60,299.66 610.30,299.36 611.00,299.63 611.70,299.21 612.40,299.15 613.10,299.60 613.80,299.27 614.50,299.12 615.20,299.26 615.90,299.41 616.60,298.98 617.30,299.33 618.00,299.26 618.70,299.29 619.40,298.98 620.10,299.36 620.80,299.38 621.50,299.35 622.20,298.87 622.90,299.02 623.60,298.61 624.30,298.62 625.00,297.77 625.70,297.80 626.40,297.15 627.10,296.08 627.80,295.75 628.50,296.12 629.20,296.87 629.90,297.23 630.60,298.44 631.30,298.29 632.00,298.53 632.70,298.66 633.40,298.89 634.10,299.39 634.80,298.91 635.50,299.02 636.20,299.49 636.90,299.17 637.60,299.08 638.30,299.52 639.00,299.52 639.70,299.50 640.40,299.65 641.10,299.24 641.80,299.79 642.50,299.70 643.20,299.24 643.90,299.31 644.60,299.58 645.30,299.59 646.00,299.44 646.70,299.34 647.40,299.55 648.10,299.37 648.80,299.69 649.50,299.89 650.20,299.40 650.90,299.70 651.60,299.83 652.30,299.43 653.00,299.90 653.70,299.98 654.40,299.60 655.10,299.63 655.80,299.93 656.50,299.71 657.20,299.63 657.90,300.01 658.60,299.90 659.30,299.60 660.00,299.54 660.70,299.61 661.40,299.69 662.10,300.07 662.80,299.95 663.50,300.03 664.20,299.97 664.90,300.00 665.60,299.45 666.30,299.78" fill="none" stroke="#e0405e" stroke-width="1.3" stroke-linejoin="round" />
<polyline points="436.00,317.82 436.70,317.81 437.40,317.33 438.10,317.45 438.80,317.60 439.50,317.41 440.20,317.53 440.90,317.21 441.60,317.46 442.30,317.52 443.00,317.18 443.70,317.26 444.40,317.85 445.10,317.71 445.80,317.83 446.50,317.61 447.20,317.74 447.90,317.79 448.60,317.79 449.30,317.20 450.00,317.63 450.70,317.37 451.40,317.66 452.10,317.37 452.80,317.56 453.50,317.83 454.20,317.62 454.90,317.36 455.60,317.55 456.30,317.49 457.00,317.86 457.70,317.39 458.40,317.41 459.10,317.65 459.80,317.28 460.50,317.62 461.20,317.87 461.90,317.56 462.60,317.39 463.30,317.53 464.00,317.58 464.70,317.31 465.40,317.30 466.10,317.30 466.80,317.42 467.50,317.50 468.20,317.42 468.90,317.39 469.60,317.28 470.30,317.60 471.00,317.81 471.70,317.65 472.40,317.62 473.10,317.68 473.80,317.37 474.50,317.72 475.20,317.55 475.90,317.61 476.60,317.66 477.30,317.56 478.00,317.45 478.70,317.40 479.40,317.39 480.10,317.60 480.80,317.51 481.50,317.65 482.20,317.25 482.90,317.49 483.60,317.85 484.30,317.41 485.00,317.64 485.70,317.59 486.40,317.45 487.10,317.94 487.80,317.46 488.50,317.80 489.20,317.37 489.90,317.30 490.60,317.87 491.30,317.57 492.00,317.31 492.70,317.53 493.40,317.57 494.10,317.78 494.80,317.34 495.50,317.42 496.20,317.93 496.90,317.76 497.60,317.31 498.30,317.36 499.00,317.21 499.70,317.15 500.40,316.64 501.10,316.05 501.80,314.94 502.50,313.24 503.20,311.53 503.90,309.37 504.60,307.13 505.30,304.84 506.00,303.41 506.70,302.43 507.40,302.51 508.10,302.77 508.80,304.82 509.50,306.23 510.20,308.94 510.90,310.86 511.60,312.46 512.30,313.91 513.00,314.13 513.70,313.87 514.40,313.36 515.10,312.15 515.80,310.33 516.50,308.41 517.20,306.81 517.90,305.56 518.60,305.08 519.30,304.84 520.00,305.68 520.70,307.15 521.40,308.76 522.10,310.58 522.80,312.69 523.50,314.28 524.20,315.26 524.90,316.12 525.60,316.54 526.30,316.97 527.00,317.01 527.70,317.27 528.40,317.04 529.10,316.23 529.80,316.05 530.50,314.52 531.20,313.37 531.90,311.49 532.60,309.43 533.30,306.70 534.00,304.84 534.70,303.66 535.40,302.24 536.10,302.33 536.80,303.60 537.50,305.16 538.20,307.52 538.90,309.63 539.60,311.58 540.30,313.74 541.00,314.86 541.70,315.94 542.40,316.79 543.10,317.05 543.80,317.31 544.50,317.63 545.20,317.54 545.90,318.00 546.60,317.83 547.30,317.74 548.00,317.44 548.70,317.64 549.40,317.66 550.10,317.77 550.80,317.78 551.50,318.00 552.20,318.06 552.90,317.72 553.60,317.69 554.30,317.82 555.00,318.09 555.70,317.63 556.40,317.76 557.10,317.96 557.80,317.51 558.50,317.62 559.20,318.08 559.90,317.98 560.60,317.76 561.30,317.48 562.00,318.03 562.70,317.89 563.40,317.98 564.10,318.10 564.80,318.03 565.50,317.70 566.20,317.52 566.90,317.61 567.60,317.77 568.30,317.77 569.00,317.55 569.70,317.55 570.40,317.86 571.10,317.84 571.80,317.67 572.50,318.12 573.20,317.87 573.90,317.45 574.60,317.71 575.30,317.96 576.00,317.62 576.70,317.87 577.40,317.36 578.10,317.54 578.80,317.86 579.50,317.60 580.20,317.56 580.90,317.11 581.60,317.16 582.30,317.03 583.00,316.63 583.70,316.69 584.40,316.40 585.10,316.53 585.80,316.07 586.50,315.83 587.20,315.55 587.90,315.57 588.60,316.04 589.30,315.69 590.00,315.83 590.70,316.07 591.40,316.52 592.10,316.95 592.80,317.01 593.50,317.33 594.20,316.98 594.90,317.08 595.60,317.72 596.30,317.50 597.00,317.84 597.70,317.63 598.40,317.54 599.10,317.63 599.80,317.53 600.50,318.10 601.20,317.88 601.90,317.72 602.60,317.80 603.30,317.75 604.00,317.52 604.70,318.11 605.40,317.90 606.10,318.16 606.80,317.80 607.50,317.93 608.20,317.67 608.90,317.52 609.60,318.15 610.30,318.09 611.00,317.71 611.70,318.12 612.40,318.06 613.10,317.70 613.80,317.91 614.50,318.15 615.20,317.82 615.90,318.13 616.60,317.62 617.30,317.71 618.00,317.92 618.70,317.55 619.40,317.58 620.10,317.95 620.80,317.63 621.50,317.80 622.20,317.36 622.90,317.25 623.60,317.31 624.30,317.10 625.00,317.56 625.70,316.98 626.40,317.06 627.10,316.62 627.80,316.78 628.50,316.54 629.20,316.40 629.90,316.01 630.60,315.90 631.30,316.23 632.00,315.74 632.70,315.51 633.40,315.33 634.10,315.26 634.80,315.10 635.50,314.85 636.20,315.19 636.90,314.89 637.60,314.71 638.30,315.06 639.00,314.62 639.70,314.76 640.40,315.19 641.10,314.75 641.80,315.05 642.50,315.42 643.20,315.51 643.90,315.19 644.60,315.47 645.30,315.87 646.00,315.79 646.70,316.35 647.40,315.99 648.10,316.67 648.80,316.51 649.50,316.47 650.20,316.77 650.90,316.68 651.60,317.21 652.30,317.01 653.00,317.56 653.70,317.44 654.40,317.37 655.10,317.36 655.80,317.68 656.50,317.47 657.20,317.98 657.90,317.50 658.60,317.81 659.30,317.86 660.00,317.69 660.70,318.06 661.40,317.81 662.10,318.02 662.80,317.97 663.50,317.79 664.20,317.86 664.90,317.65 665.60,317.72 666.30,318.20" fill="none" stroke="#a8283a" stroke-width="1.3" stroke-linejoin="round" />
<line x1="507.50" y1="322.00" x2="507.50" y2="336.20" stroke="#a3303c" stroke-width="1.0" />
<line x1="518.50" y1="322.00" x2="518.50" y2="336.20" stroke="#a3303c" stroke-width="1.0" />
<line x1="536.90" y1="322.00" x2="536.90" y2="336.20" stroke="#a3303c" stroke-width="1.0" />
<line x1="588.00" y1="333.00" x2="588.00" y2="336.20" stroke="#a3303c" stroke-width="1.0" />
<line x1="634.50" y1="334.00" x2="634.50" y2="336.20" stroke="#a3303c" stroke-width="1.0" />
<line x1="642.20" y1="333.50" x2="642.20" y2="336.20" stroke="#a3303c" stroke-width="1.0" />
<rect x="436.0" y="196.6" width="230.39999999999998" height="139.6" fill="none" stroke="#2a2a2a" stroke-width="1.1"/>
<line x1="436.00" y1="336.20" x2="436.00" y2="339.70" stroke="#222" stroke-width="1" />
<text x="439.30" y="350.80" font-size="10.4" text-anchor="middle" font-weight="normal" fill="#1a1a1a" style="color:#1a1a1a" >20</text>
<line x1="551.20" y1="336.20" x2="551.20" y2="339.70" stroke="#222" stroke-width="1" />
<text x="553.00" y="350.80" font-size="10.4" text-anchor="middle" font-weight="normal" fill="#1a1a1a" style="color:#1a1a1a" >25</text>
<line x1="666.40" y1="336.20" x2="666.40" y2="339.70" stroke="#222" stroke-width="1" />
<text x="664.30" y="350.80" font-size="10.4" text-anchor="middle" font-weight="normal" fill="#1a1a1a" style="color:#1a1a1a" >30</text>
<line x1="493.60" y1="336.20" x2="493.60" y2="338.20" stroke="#222" stroke-width="1" />
<line x1="608.80" y1="336.20" x2="608.80" y2="338.20" stroke="#222" stroke-width="1" />
<text x="553.3" y="360.9" font-size="11.5" text-anchor="middle" fill="#1a1a1a">2θ (°)</text>
<text transform="translate(429.60,264.40) rotate(-90)" font-size="11.8" text-anchor="middle" fill="#1a1a1a">Intensity (arb. units)</text>
<text x="660.00" y="208.90" font-size="10" text-anchor="end" font-weight="normal" fill="#1a1a1a" style="color:#1a1a1a" >~15 nm</text>
<text x="660.00" y="224.60" font-size="10" text-anchor="end" font-weight="normal" fill="#1a1a1a" style="color:#1a1a1a" >~30 nm</text>
<text x="660.00" y="242.40" font-size="10" text-anchor="end" font-weight="normal" fill="#1a1a1a" style="color:#1a1a1a" >~60 nm</text>
<text x="660.00" y="260.30" font-size="10" text-anchor="end" font-weight="normal" fill="#1a1a1a" style="color:#1a1a1a" >~15 nm</text>
<text x="660.00" y="277.40" font-size="10" text-anchor="end" font-weight="normal" fill="#1a1a1a" style="color:#1a1a1a" >~30 nm</text>
<text x="660.00" y="294.20" font-size="10" text-anchor="end" font-weight="normal" fill="#1a1a1a" style="color:#1a1a1a" >~60 nm</text>
<text x="660.00" y="310.60" font-size="10" text-anchor="end" font-weight="normal" fill="#1a1a1a" style="color:#1a1a1a" >Pristine</text>
<text x="659.6" y="330" font-size="10" text-anchor="end" fill="#1a1a1a">γ-WO<tspan font-size="7" dy="2.2">3</tspan></text>
<path d="M669.4,209 H671.5 V246.4 H669.4 M671.5,227.7 H673.9" stroke="#444" stroke-width="0.8" fill="none"/>
<path d="M669.4,258.5 H671.5 V298 H669.4 M671.5,278.25 H673.9" stroke="#444" stroke-width="0.8" fill="none"/>
<text x="683.8" y="228.2" font-size="10" text-anchor="middle" fill="#1a1a1a" transform="rotate(-90 683.8 228.2)">Bleached</text>
<text x="683.8" y="276.3" font-size="10" text-anchor="middle" fill="#1a1a1a" transform="rotate(-90 683.8 276.3)">Colored</text>
<text x="2.40" y="383.10" font-size="12.8" text-anchor="start" font-weight="bold" fill="#111" style="color:#111" >f</text>
<polyline points="40.70,419.99 41.70,420.27 42.70,419.91 43.70,420.38 44.70,420.06 45.70,419.70 46.70,419.47 47.70,419.39 48.70,419.45 49.70,419.94 50.70,420.00 51.70,420.33 52.70,420.55 53.70,421.13 54.70,421.70 55.70,421.62 56.70,420.83 57.70,420.08 58.70,419.04 59.70,419.62 60.70,419.90 61.70,419.73 62.70,417.96 63.70,415.28 64.70,412.73 65.70,411.74 66.70,414.25 67.70,416.87 68.70,419.36 69.70,419.46 70.70,419.48 71.70,419.93 72.70,420.64 73.70,421.39 74.70,420.36 75.70,419.55 76.70,418.90 77.70,419.09 78.70,419.42 79.70,419.68 80.70,419.49 81.70,419.50 82.70,419.81 83.70,419.98 84.70,420.61 85.70,420.52 86.70,421.16 87.70,420.45 88.70,420.28 89.70,420.23 90.70,420.33 91.70,419.79 92.70,419.96 93.70,420.45 94.70,420.77 95.70,419.79 96.70,419.85 97.70,420.21 98.70,420.17 99.70,419.40 100.70,418.75 101.70,419.59 102.70,419.49 103.70,420.39 104.70,420.27 105.70,420.04 106.70,419.69 107.70,419.16 108.70,419.85 109.70,419.90 110.70,419.64 111.70,418.72 112.70,418.72 113.70,418.74 114.70,419.59 115.70,419.12 116.70,419.32 117.70,419.01 118.70,418.74 119.70,418.19 120.70,417.05 121.70,416.91 122.70,416.66 123.70,416.98 124.70,417.02 125.70,416.42 126.70,416.48 127.70,415.17 128.70,415.62 129.70,415.43 130.70,415.46 131.70,415.03 132.70,415.00 133.70,415.23 134.70,415.01 135.70,413.94 136.70,413.04 137.70,412.62 138.70,412.63 139.70,412.61 140.70,412.36 141.70,411.81 142.70,412.10 143.70,412.02 144.70,411.20 145.70,408.98 146.70,406.12 147.70,402.57 148.70,398.82 149.70,394.17 150.70,391.11 151.70,391.07 152.70,393.78 153.70,398.69 154.70,402.80 155.70,407.60 156.70,410.45 157.70,412.77 158.70,413.02 159.70,413.68 160.70,413.64 161.70,413.78 162.70,413.12 163.70,411.74 164.70,408.43 165.70,403.53 166.70,397.41 167.70,391.57 168.70,386.43 169.70,384.35 170.70,386.24 171.70,392.01 172.70,398.56 173.70,404.59 174.70,409.12 175.70,412.69 176.70,415.26 177.70,416.43 178.70,416.73 179.70,416.79 180.70,418.10 181.70,419.15 182.70,419.43 183.70,419.27 184.70,419.69 185.70,420.39 186.70,419.78 187.70,419.29 188.70,419.22 189.70,419.39 190.70,419.53 191.70,419.08 192.70,420.01 193.70,420.18 194.70,420.96 195.70,421.02 196.70,421.06 197.70,420.64 198.70,419.84 199.70,419.25 200.70,419.00 201.70,419.65 202.70,420.51 203.70,420.84 204.70,420.15 205.70,419.92 206.70,420.59 207.70,421.49 208.70,420.93 209.70,420.86 210.70,420.75 211.70,421.45 212.70,420.90 213.70,420.13" fill="none" stroke="#3a6fbd" stroke-width="1.05" stroke-linejoin="round" />
<polyline points="40.70,466.70 41.70,466.27 42.70,466.29 43.70,466.89 44.70,466.36 45.70,465.79 46.70,465.29 47.70,465.71 48.70,466.68 49.70,466.71 50.70,466.93 51.70,466.91 52.70,466.41 53.70,465.64 54.70,464.32 55.70,463.87 56.70,463.85 57.70,463.63 58.70,464.11 59.70,463.47 60.70,464.00 61.70,464.44 62.70,464.41 63.70,463.93 64.70,463.28 65.70,463.54 66.70,464.64 67.70,464.11 68.70,465.13 69.70,465.37 70.70,466.54 71.70,465.96 72.70,465.16 73.70,465.02 74.70,465.20 75.70,465.49 76.70,465.16 77.70,465.21 78.70,465.75 79.70,466.65 80.70,467.53 81.70,467.00 82.70,466.41 83.70,465.91 84.70,466.62 85.70,466.81 86.70,466.55 87.70,465.95 88.70,465.99 89.70,466.44 90.70,467.78 91.70,468.69 92.70,469.34 93.70,469.42 94.70,469.56 95.70,469.27 96.70,469.10 97.70,467.87 98.70,468.01 99.70,467.78 100.70,468.18 101.70,468.08 102.70,468.62 103.70,468.92 104.70,469.06 105.70,468.14 106.70,467.96 107.70,468.31 108.70,467.92 109.70,467.69 110.70,467.37 111.70,467.95 112.70,467.77 113.70,467.70 114.70,467.54 115.70,468.19 116.70,467.77 117.70,467.92 118.70,467.82 119.70,467.70 120.70,467.00 121.70,466.34 122.70,466.93 123.70,467.42 124.70,467.18 125.70,466.99 126.70,466.40 127.70,466.19 128.70,465.51 129.70,465.29 130.70,465.61 131.70,465.39 132.70,465.07 133.70,464.89 134.70,463.94 135.70,464.01 136.70,463.69 137.70,463.28 138.70,462.76 139.70,461.65 140.70,461.81 141.70,462.11 142.70,462.47 143.70,462.55 144.70,462.12 145.70,461.25 146.70,461.44 147.70,461.24 148.70,461.11 149.70,460.82 150.70,460.34 151.70,460.48 152.70,460.76 153.70,461.16 154.70,462.23 155.70,461.31 156.70,461.98 157.70,461.39 158.70,462.07 159.70,462.03 160.70,462.39 161.70,463.01 162.70,462.33 163.70,461.51 164.70,459.48 165.70,456.59 166.70,453.36 167.70,448.69 168.70,445.05 169.70,441.56 170.70,441.21 171.70,443.01 172.70,446.18 173.70,450.53 174.70,454.28 175.70,458.97 176.70,461.76 177.70,464.43 178.70,464.75 179.70,465.04 180.70,465.34 181.70,466.78 182.70,467.44 183.70,466.55 184.70,466.13 185.70,465.30 186.70,466.08 187.70,466.41 188.70,466.46 189.70,467.03 190.70,466.87 191.70,467.10 192.70,466.06 193.70,465.75 194.70,466.61 195.70,467.18 196.70,466.71 197.70,465.54 198.70,464.87 199.70,465.87 200.70,466.11 201.70,466.76 202.70,466.03 203.70,466.76 204.70,466.51 205.70,466.31 206.70,466.58 207.70,466.81 208.70,467.60 209.70,467.51 210.70,468.10 211.70,467.13 212.70,466.46 213.70,465.32" fill="none" stroke="#e5506c" stroke-width="1.05" stroke-linejoin="round" />
<polyline points="40.70,516.78 41.70,516.22 42.70,515.38 43.70,515.40 44.70,516.17 45.70,516.41 46.70,515.99 47.70,515.34 48.70,515.82 49.70,515.49 50.70,515.73 51.70,514.61 52.70,514.12 53.70,514.24 54.70,514.45 55.70,515.70 56.70,516.08 57.70,515.87 58.70,514.98 59.70,514.65 60.70,515.03 61.70,515.12 62.70,514.06 63.70,511.74 64.70,508.33 65.70,507.31 66.70,508.91 67.70,511.67 68.70,513.55 69.70,515.29 70.70,515.66 71.70,515.40 72.70,515.07 73.70,515.37 74.70,515.55 75.70,515.36 76.70,515.35 77.70,515.72 78.70,515.75 79.70,516.59 80.70,517.10 81.70,516.51 82.70,516.03 83.70,515.76 84.70,516.77 85.70,517.02 86.70,516.85 87.70,516.55 88.70,516.05 89.70,515.62 90.70,515.80 91.70,516.39 92.70,517.16 93.70,517.01 94.70,516.30 95.70,516.06 96.70,516.10 97.70,516.32 98.70,516.12 99.70,515.61 100.70,515.62 101.70,515.29 102.70,514.88 103.70,514.56 104.70,514.38 105.70,515.42 106.70,515.50 107.70,515.46 108.70,514.46 109.70,514.05 110.70,513.91 111.70,513.65 112.70,513.24 113.70,513.71 114.70,513.93 115.70,514.29 116.70,513.75 117.70,513.38 118.70,512.85 119.70,512.05 120.70,511.83 121.70,511.78 122.70,512.35 123.70,512.42 124.70,512.94 125.70,512.24 126.70,512.44 127.70,511.77 128.70,511.22 129.70,510.09 130.70,509.85 131.70,510.70 132.70,510.69 133.70,510.69 134.70,509.81 135.70,510.21 136.70,509.16 137.70,509.04 138.70,508.88 139.70,508.95 140.70,508.48 141.70,507.21 142.70,506.77 143.70,506.26 144.70,506.14 145.70,504.55 146.70,502.03 147.70,497.63 148.70,493.51 149.70,489.61 150.70,487.27 151.70,486.81 152.70,489.61 153.70,494.58 154.70,499.84 155.70,503.06 156.70,505.75 157.70,507.89 158.70,509.25 159.70,508.98 160.70,508.34 161.70,508.41 162.70,508.62 163.70,507.69 164.70,505.56 165.70,500.86 166.70,495.48 167.70,489.90 168.70,486.04 169.70,484.36 170.70,486.01 171.70,490.20 172.70,495.55 173.70,500.80 174.70,504.99 175.70,508.90 176.70,510.88 177.70,512.66 178.70,513.35 179.70,513.70 180.70,513.96 181.70,513.49 182.70,514.48 183.70,514.76 184.70,516.07 185.70,515.14 186.70,515.31 187.70,515.09 188.70,515.51 189.70,514.96 190.70,514.34 191.70,514.18 192.70,515.04 193.70,515.01 194.70,515.85 195.70,515.48 196.70,516.05 197.70,515.81 198.70,515.99 199.70,516.15 200.70,516.19 201.70,515.94 202.70,516.05 203.70,515.66 204.70,516.12 205.70,516.16 206.70,516.79 207.70,516.32 208.70,516.34 209.70,516.58 210.70,516.76 211.70,516.17 212.70,515.63 213.70,516.22" fill="none" stroke="#b02a3c" stroke-width="1.05" stroke-linejoin="round" />
<rect x="40.7" y="381.4" width="173.89999999999998" height="143.0" fill="none" stroke="#2a2a2a" stroke-width="1.1"/>
<line x1="40.70" y1="429.50" x2="214.60" y2="429.50" stroke="#666" stroke-width="1.5" />
<line x1="40.70" y1="477.00" x2="214.60" y2="477.00" stroke="#888" stroke-width="1.5" />
<line x1="60.02" y1="524.40" x2="60.02" y2="527.70" stroke="#222" stroke-width="1" />
<text x="59.22" y="536.90" font-size="10" text-anchor="middle" font-weight="normal" fill="#1a1a1a" style="color:#1a1a1a" >200</text>
<line x1="98.67" y1="524.40" x2="98.67" y2="527.70" stroke="#222" stroke-width="1" />
<text x="97.87" y="536.90" font-size="10" text-anchor="middle" font-weight="normal" fill="#1a1a1a" style="color:#1a1a1a" >400</text>
<line x1="137.31" y1="524.40" x2="137.31" y2="527.70" stroke="#222" stroke-width="1" />
<text x="136.51" y="536.90" font-size="10" text-anchor="middle" font-weight="normal" fill="#1a1a1a" style="color:#1a1a1a" >600</text>
<line x1="175.96" y1="524.40" x2="175.96" y2="527.70" stroke="#222" stroke-width="1" />
<text x="175.16" y="536.90" font-size="10" text-anchor="middle" font-weight="normal" fill="#1a1a1a" style="color:#1a1a1a" >800</text>
<line x1="214.60" y1="524.40" x2="214.60" y2="527.70" stroke="#222" stroke-width="1" />
<text x="213.80" y="536.90" font-size="10" text-anchor="middle" font-weight="normal" fill="#1a1a1a" style="color:#1a1a1a" >1000</text>
<line x1="79.34" y1="524.40" x2="79.34" y2="526.40" stroke="#222" stroke-width="1" />
<line x1="117.99" y1="524.40" x2="117.99" y2="526.40" stroke="#222" stroke-width="1" />
<line x1="156.63" y1="524.40" x2="156.63" y2="526.40" stroke="#222" stroke-width="1" />
<line x1="195.28" y1="524.40" x2="195.28" y2="526.40" stroke="#222" stroke-width="1" />
<text x="127.8" y="551.5" font-size="11.6" text-anchor="middle" fill="#1a1a1a">Raman Shift (cm<tspan font-size="7.5" dy="-4.5">-1</tspan><tspan dy="4.5">)</tspan></text>
<text transform="translate(16.60,446.80) rotate(-90)" font-size="11.6" text-anchor="middle" fill="#1a1a1a">Intensity (arb. units)</text>
<text x="73.10" y="377.00" font-size="10" text-anchor="middle" font-weight="normal" fill="#1a1a1a" style="color:#1a1a1a" >δ(W-O-W)</text>
<text x="157.60" y="377.40" font-size="10" text-anchor="middle" font-weight="normal" fill="#1a1a1a" style="color:#1a1a1a" >ν(W-O-W)</text>
<text x="169.90" y="393.60" font-size="10" text-anchor="start" font-weight="normal" fill="#1a1a1a" style="color:#1a1a1a" >Bleached</text>
<text x="172.00" y="441.60" font-size="10" text-anchor="start" font-weight="normal" fill="#1a1a1a" style="color:#1a1a1a" >Colored</text>
<text x="176.40" y="490.40" font-size="10" text-anchor="start" font-weight="normal" fill="#1a1a1a" style="color:#1a1a1a" >Pristine</text>
<line x1="95.90" y1="398.90" x2="96.95" y2="392.40" stroke="#6a8cc4" stroke-width="1.3" />
<line x1="96.95" y1="392.40" x2="98.00" y2="385.90" stroke="#c4505a" stroke-width="1.3" />
<line x1="95.90" y1="398.90" x2="88.65" y2="398.35" stroke="#6a8cc4" stroke-width="1.3" />
<line x1="88.65" y1="398.35" x2="81.40" y2="397.80" stroke="#c4505a" stroke-width="1.3" />
<line x1="95.90" y1="398.90" x2="94.15" y2="406.20" stroke="#6a8cc4" stroke-width="1.3" />
<line x1="94.15" y1="406.20" x2="92.40" y2="413.50" stroke="#c4505a" stroke-width="1.3" />
<line x1="95.90" y1="398.90" x2="94.35" y2="397.85" stroke="#6a8cc4" stroke-width="1.3" />
<line x1="94.35" y1="397.85" x2="92.80" y2="396.80" stroke="#c4505a" stroke-width="1.3" />
<line x1="123.50" y1="400.90" x2="122.05" y2="393.80" stroke="#6a8cc4" stroke-width="1.3" />
<line x1="122.05" y1="393.80" x2="120.60" y2="386.70" stroke="#c4505a" stroke-width="1.3" />
<line x1="123.50" y1="400.90" x2="130.15" y2="399.20" stroke="#6a8cc4" stroke-width="1.3" />
<line x1="130.15" y1="399.20" x2="136.80" y2="397.50" stroke="#c4505a" stroke-width="1.3" />
<line x1="123.50" y1="400.90" x2="124.20" y2="407.80" stroke="#6a8cc4" stroke-width="1.3" />
<line x1="124.20" y1="407.80" x2="124.90" y2="414.70" stroke="#c4505a" stroke-width="1.3" />
<line x1="95.90" y1="398.90" x2="102.50" y2="400.95" stroke="#6a8cc4" stroke-width="1.3" />
<line x1="102.50" y1="400.95" x2="109.10" y2="403.00" stroke="#c4505a" stroke-width="1.3" />
<line x1="123.50" y1="400.90" x2="116.30" y2="401.95" stroke="#6a8cc4" stroke-width="1.3" />
<line x1="116.30" y1="401.95" x2="109.10" y2="403.00" stroke="#c4505a" stroke-width="1.3" />
<circle cx="98.00" cy="385.90" r="1.75" fill="#bf434d" stroke="#7a2a30" stroke-width="0.45"/>
<circle cx="81.40" cy="397.80" r="1.75" fill="#bf434d" stroke="#7a2a30" stroke-width="0.45"/>
<circle cx="92.40" cy="413.50" r="1.75" fill="#bf434d" stroke="#7a2a30" stroke-width="0.45"/>
<circle cx="92.80" cy="396.80" r="1.75" fill="#bf434d" stroke="#7a2a30" stroke-width="0.45"/>
<circle cx="120.60" cy="386.70" r="1.75" fill="#bf434d" stroke="#7a2a30" stroke-width="0.45"/>
<circle cx="136.80" cy="397.50" r="1.75" fill="#bf434d" stroke="#7a2a30" stroke-width="0.45"/>
<circle cx="124.90" cy="414.70" r="1.75" fill="#bf434d" stroke="#7a2a30" stroke-width="0.45"/>
<circle cx="95.90" cy="398.90" r="3.9" fill="#5b82c0" stroke="#3a5a8a" stroke-width="0.5"/>
<circle cx="123.50" cy="400.90" r="3.9" fill="#5b82c0" stroke="#3a5a8a" stroke-width="0.5"/>
<line x1="95.90" y1="398.90" x2="96.65" y2="400.50" stroke="#6a8cc4" stroke-width="1.3" />
<line x1="96.65" y1="400.50" x2="97.40" y2="402.10" stroke="#c4505a" stroke-width="1.3" />
<circle cx="97.40" cy="402.10" r="1.75" fill="#bf434d" stroke="#7a2a30" stroke-width="0.45"/>
<circle cx="120.20" cy="398.40" r="1.75" fill="#bf434d" stroke="#7a2a30" stroke-width="0.45"/>
<circle cx="109.10" cy="403.00" r="1.75" fill="#bf434d" stroke="#7a2a30" stroke-width="0.45"/>
<path d="M104.30,402.50 A4.83,3.60 5.9 0 1 113.90,403.50" fill="none" stroke="#222" stroke-width="0.9"/>
<line x1="93.00" y1="449.80" x2="93.00" y2="442.80" stroke="#6a8cc4" stroke-width="1.3" />
<line x1="93.00" y1="442.80" x2="93.00" y2="435.80" stroke="#c4505a" stroke-width="1.3" />
<line x1="93.00" y1="449.80" x2="93.00" y2="457.00" stroke="#6a8cc4" stroke-width="1.3" />
<line x1="93.00" y1="457.00" x2="93.00" y2="464.20" stroke="#c4505a" stroke-width="1.3" />
<line x1="93.00" y1="449.80" x2="85.95" y2="449.80" stroke="#6a8cc4" stroke-width="1.3" />
<line x1="85.95" y1="449.80" x2="78.90" y2="449.80" stroke="#c4505a" stroke-width="1.3" />
<line x1="121.70" y1="449.80" x2="121.70" y2="442.80" stroke="#6a8cc4" stroke-width="1.3" />
<line x1="121.70" y1="442.80" x2="121.70" y2="435.80" stroke="#c4505a" stroke-width="1.3" />
<line x1="121.70" y1="449.80" x2="121.70" y2="457.00" stroke="#6a8cc4" stroke-width="1.3" />
<line x1="121.70" y1="457.00" x2="121.70" y2="464.20" stroke="#c4505a" stroke-width="1.3" />
<line x1="121.70" y1="449.80" x2="128.90" y2="449.80" stroke="#6a8cc4" stroke-width="1.3" />
<line x1="128.90" y1="449.80" x2="136.10" y2="449.80" stroke="#c4505a" stroke-width="1.3" />
<line x1="93.00" y1="449.80" x2="100.15" y2="450.00" stroke="#6a8cc4" stroke-width="1.3" />
<line x1="100.15" y1="450.00" x2="107.30" y2="450.20" stroke="#c4505a" stroke-width="1.3" />
<line x1="121.70" y1="449.80" x2="114.50" y2="450.00" stroke="#6a8cc4" stroke-width="1.3" />
<line x1="114.50" y1="450.00" x2="107.30" y2="450.20" stroke="#c4505a" stroke-width="1.3" />
<circle cx="93.00" cy="435.80" r="1.75" fill="#bf434d" stroke="#7a2a30" stroke-width="0.45"/>
<circle cx="93.00" cy="464.20" r="1.75" fill="#bf434d" stroke="#7a2a30" stroke-width="0.45"/>
<circle cx="78.90" cy="449.80" r="1.75" fill="#bf434d" stroke="#7a2a30" stroke-width="0.45"/>
<circle cx="121.70" cy="435.80" r="1.75" fill="#bf434d" stroke="#7a2a30" stroke-width="0.45"/>
<circle cx="121.70" cy="464.20" r="1.75" fill="#bf434d" stroke="#7a2a30" stroke-width="0.45"/>
<circle cx="136.10" cy="449.80" r="1.75" fill="#bf434d" stroke="#7a2a30" stroke-width="0.45"/>
<circle cx="93.00" cy="449.80" r="3.9" fill="#5b82c0" stroke="#3a5a8a" stroke-width="0.5"/>
<circle cx="121.70" cy="449.80" r="3.9" fill="#5b82c0" stroke="#3a5a8a" stroke-width="0.5"/>
<circle cx="93.00" cy="449.80" r="1.9" fill="#bf434d" stroke="#7a2a30" stroke-width="0.45"/>
<circle cx="121.70" cy="449.80" r="1.9" fill="#bf434d" stroke="#7a2a30" stroke-width="0.45"/>
<circle cx="107.30" cy="450.20" r="1.75" fill="#bf434d" stroke="#7a2a30" stroke-width="0.45"/>
<path d="M102.40,449.90 A4.90,3.50 0.0 0 1 112.20,449.90" fill="none" stroke="#222" stroke-width="0.9"/>
<line x1="94.90" y1="494.90" x2="95.95" y2="488.40" stroke="#6a8cc4" stroke-width="1.3" />
<line x1="95.95" y1="488.40" x2="97.00" y2="481.90" stroke="#c4505a" stroke-width="1.3" />
<line x1="94.90" y1="494.90" x2="87.65" y2="494.35" stroke="#6a8cc4" stroke-width="1.3" />
<line x1="87.65" y1="494.35" x2="80.40" y2="493.80" stroke="#c4505a" stroke-width="1.3" />
<line x1="94.90" y1="494.90" x2="93.15" y2="502.20" stroke="#6a8cc4" stroke-width="1.3" />
<line x1="93.15" y1="502.20" x2="91.40" y2="509.50" stroke="#c4505a" stroke-width="1.3" />
<line x1="94.90" y1="494.90" x2="93.35" y2="493.85" stroke="#6a8cc4" stroke-width="1.3" />
<line x1="93.35" y1="493.85" x2="91.80" y2="492.80" stroke="#c4505a" stroke-width="1.3" />
<line x1="122.50" y1="496.90" x2="121.05" y2="489.80" stroke="#6a8cc4" stroke-width="1.3" />
<line x1="121.05" y1="489.80" x2="119.60" y2="482.70" stroke="#c4505a" stroke-width="1.3" />
<line x1="122.50" y1="496.90" x2="129.15" y2="495.20" stroke="#6a8cc4" stroke-width="1.3" />
<line x1="129.15" y1="495.20" x2="135.80" y2="493.50" stroke="#c4505a" stroke-width="1.3" />
<line x1="122.50" y1="496.90" x2="123.20" y2="503.80" stroke="#6a8cc4" stroke-width="1.3" />
<line x1="123.20" y1="503.80" x2="123.90" y2="510.70" stroke="#c4505a" stroke-width="1.3" />
<line x1="94.90" y1="494.90" x2="101.50" y2="496.95" stroke="#6a8cc4" stroke-width="1.3" />
<line x1="101.50" y1="496.95" x2="108.10" y2="499.00" stroke="#c4505a" stroke-width="1.3" />
<line x1="122.50" y1="496.90" x2="115.30" y2="497.95" stroke="#6a8cc4" stroke-width="1.3" />
<line x1="115.30" y1="497.95" x2="108.10" y2="499.00" stroke="#c4505a" stroke-width="1.3" />
<circle cx="97.00" cy="481.90" r="1.75" fill="#bf434d" stroke="#7a2a30" stroke-width="0.45"/>
<circle cx="80.40" cy="493.80" r="1.75" fill="#bf434d" stroke="#7a2a30" stroke-width="0.45"/>
<circle cx="91.40" cy="509.50" r="1.75" fill="#bf434d" stroke="#7a2a30" stroke-width="0.45"/>
<circle cx="91.80" cy="492.80" r="1.75" fill="#bf434d" stroke="#7a2a30" stroke-width="0.45"/>
<circle cx="119.60" cy="482.70" r="1.75" fill="#bf434d" stroke="#7a2a30" stroke-width="0.45"/>
<circle cx="135.80" cy="493.50" r="1.75" fill="#bf434d" stroke="#7a2a30" stroke-width="0.45"/>
<circle cx="123.90" cy="510.70" r="1.75" fill="#bf434d" stroke="#7a2a30" stroke-width="0.45"/>
<circle cx="94.90" cy="494.90" r="3.9" fill="#5b82c0" stroke="#3a5a8a" stroke-width="0.5"/>
<circle cx="122.50" cy="496.90" r="3.9" fill="#5b82c0" stroke="#3a5a8a" stroke-width="0.5"/>
<line x1="94.90" y1="494.90" x2="95.65" y2="496.50" stroke="#6a8cc4" stroke-width="1.3" />
<line x1="95.65" y1="496.50" x2="96.40" y2="498.10" stroke="#c4505a" stroke-width="1.3" />
<circle cx="96.40" cy="498.10" r="1.75" fill="#bf434d" stroke="#7a2a30" stroke-width="0.45"/>
<circle cx="119.20" cy="494.40" r="1.75" fill="#bf434d" stroke="#7a2a30" stroke-width="0.45"/>
<circle cx="108.10" cy="499.00" r="1.75" fill="#bf434d" stroke="#7a2a30" stroke-width="0.45"/>
<path d="M103.30,498.50 A4.83,3.60 5.9 0 1 112.90,499.50" fill="none" stroke="#222" stroke-width="0.9"/>
<text x="230.30" y="383.40" font-size="12.8" text-anchor="start" font-weight="bold" fill="#111" style="color:#111" >g</text>
<polyline points="262.50,420.35 263.30,420.31 264.10,420.26 264.90,420.22 265.70,420.17 266.50,420.13 267.30,420.08 268.10,420.04 268.90,420.00 269.70,419.97 270.50,419.94 271.30,419.92 272.10,419.90 272.90,419.89 273.70,419.88 274.50,419.89 275.30,419.90 276.10,419.92 276.90,419.95 277.70,419.98 278.50,420.02 279.30,420.07 280.10,420.12 280.90,420.18 281.70,420.24 282.50,420.31 283.30,420.37 284.10,420.44 284.90,420.51 285.70,420.58 286.50,420.65 287.30,420.72 288.10,420.79 288.90,420.85 289.70,420.92 290.50,420.97 291.30,421.03 292.10,421.08 292.90,421.13 293.70,421.18 294.50,421.22 295.30,421.26 296.10,421.29 296.90,421.33 297.70,421.36 298.50,421.38 299.30,421.41 300.10,421.43 300.90,421.46 301.70,421.48 302.50,421.50 303.30,421.51 304.10,421.53 304.90,421.55 305.70,421.56 306.50,421.58 307.30,421.59 308.10,421.60 308.90,421.61 309.70,421.62 310.50,421.63 311.30,421.62 312.10,421.59 312.90,421.53 313.70,421.41 314.50,421.20 315.30,420.85 316.10,420.33 316.90,419.57 317.70,418.51 318.50,417.12 319.30,415.38 320.10,413.29 320.90,410.91 321.70,408.33 322.50,405.68 323.30,403.09 324.10,400.71 324.90,398.68 325.70,397.08 326.50,395.97 327.30,395.35 328.10,395.13 328.90,395.17 329.70,395.50 330.50,396.27 331.30,397.53 332.10,399.26 332.90,401.42 333.70,403.88 334.50,406.53 335.30,409.20 336.10,411.77 336.90,414.11 337.70,416.14 338.50,417.82 339.30,419.14 340.10,420.14 340.90,420.85 341.70,421.32 342.50,421.60 343.30,421.72 344.10,421.70 344.90,421.53 345.70,421.18 346.50,420.63 347.30,419.81 348.10,418.67 348.90,417.16 349.70,415.24 350.50,412.91 351.30,410.21 352.10,407.21 352.90,404.02 353.70,400.79 354.50,397.68 355.30,394.85 356.10,392.44 356.90,390.54 357.70,389.21 358.50,388.43 359.30,388.13 360.10,388.14 360.90,388.47 361.70,389.27 362.50,390.63 363.30,392.55 364.10,394.99 364.90,397.84 365.70,400.98 366.50,404.23 367.30,407.45 368.10,410.47 368.90,413.20 369.70,415.55 370.50,417.50 371.30,419.04 372.10,420.21 372.90,421.06 373.70,421.65 374.50,422.06 375.30,422.32 376.10,422.48 376.90,422.58 377.70,422.64 378.50,422.68 379.30,422.71 380.10,422.72 380.90,422.74 381.70,422.75 382.50,422.77 383.30,422.78 384.10,422.79 384.90,422.80 385.70,422.82 386.50,422.83 387.30,422.84 388.10,422.85 388.90,422.87 389.70,422.88 390.50,422.89 391.30,422.90 392.10,422.92 392.90,422.93 393.70,422.94 394.50,422.95 395.30,422.97 396.10,422.98 396.90,422.99 397.70,423.00 398.50,423.02 399.30,423.03 400.10,423.04 400.90,423.05 401.70,423.07 402.50,423.08 403.30,423.09 404.10,423.10 404.90,423.12 405.70,423.13 406.50,423.14 407.30,423.15 408.10,423.17 408.90,423.18 409.70,423.19 410.50,423.20 411.30,423.22 412.10,423.23 412.90,423.24 413.70,423.25 414.50,423.27 415.30,423.28 416.10,423.29 416.90,423.30 417.70,423.32 418.50,423.33 419.30,423.34 420.10,423.35 420.90,423.37 421.70,423.38 422.50,423.39 423.30,423.40 424.10,423.41 424.90,423.43 425.70,423.44 426.50,423.45 427.30,423.46 428.10,423.48 428.90,423.49 429.70,423.50 430.50,423.51 431.30,423.53 432.10,423.54 432.90,423.55 433.70,423.56 434.50,423.58 435.30,423.59" fill="none" stroke="#9a9a9a" stroke-width="2.2" stroke-linejoin="round" />
<polyline points="262.50,420.35 263.30,420.31 264.10,420.26 264.90,420.22 265.70,420.17 266.50,420.13 267.30,420.08 268.10,420.04 268.90,420.00 269.70,419.97 270.50,419.94 271.30,419.92 272.10,419.90 272.90,419.89 273.70,419.88 274.50,419.89 275.30,419.90 276.10,419.92 276.90,419.95 277.70,419.98 278.50,420.02 279.30,420.07 280.10,420.12 280.90,420.18 281.70,420.24 282.50,420.31 283.30,420.37 284.10,420.44 284.90,420.51 285.70,420.58 286.50,420.65 287.30,420.72 288.10,420.79 288.90,420.85 289.70,420.92 290.50,420.97 291.30,421.03 292.10,421.08 292.90,421.13 293.70,421.18 294.50,421.22 295.30,421.26 296.10,421.29 296.90,421.33 297.70,421.36 298.50,421.38 299.30,421.41 300.10,421.43 300.90,421.46 301.70,421.48 302.50,421.50 303.30,421.51 304.10,421.53 304.90,421.55 305.70,421.56 306.50,421.58 307.30,421.59 308.10,421.60 308.90,421.61 309.70,421.62 310.50,421.63 311.30,421.62 312.10,421.59 312.90,421.53 313.70,421.41 314.50,421.20 315.30,420.85 316.10,420.33 316.90,419.57 317.70,418.51 318.50,417.12 319.30,415.38 320.10,413.29 320.90,410.91 321.70,408.33 322.50,405.68 323.30,403.09 324.10,400.71 324.90,398.68 325.70,397.08 326.50,395.97 327.30,395.35 328.10,395.13 328.90,395.17 329.70,395.50 330.50,396.27 331.30,397.53 332.10,399.26 332.90,401.42 333.70,403.88 334.50,406.53 335.30,409.20 336.10,411.77 336.90,414.11 337.70,416.14 338.50,417.82 339.30,419.14 340.10,420.14 340.90,420.85 341.70,421.32 342.50,421.60 343.30,421.72 344.10,421.70 344.90,421.53 345.70,421.18 346.50,420.63 347.30,419.81 348.10,418.67 348.90,417.16 349.70,415.24 350.50,412.91 351.30,410.21 352.10,407.21 352.90,404.02 353.70,400.79 354.50,397.68 355.30,394.85 356.10,392.44 356.90,390.54 357.70,389.21 358.50,388.43 359.30,388.13 360.10,388.14 360.90,388.47 361.70,389.27 362.50,390.63 363.30,392.55 364.10,394.99 364.90,397.84 365.70,400.98 366.50,404.23 367.30,407.45 368.10,410.47 368.90,413.20 369.70,415.55 370.50,417.50 371.30,419.04 372.10,420.21 372.90,421.06 373.70,421.65 374.50,422.06 375.30,422.32 376.10,422.48 376.90,422.58 377.70,422.64 378.50,422.68 379.30,422.71 380.10,422.72 380.90,422.74 381.70,422.75 382.50,422.77 383.30,422.78 384.10,422.79 384.90,422.80 385.70,422.82 386.50,422.83 387.30,422.84 388.10,422.85 388.90,422.87 389.70,422.88 390.50,422.89 391.30,422.90 392.10,422.92 392.90,422.93 393.70,422.94 394.50,422.95 395.30,422.97 396.10,422.98 396.90,422.99 397.70,423.00 398.50,423.02 399.30,423.03 400.10,423.04 400.90,423.05 401.70,423.07 402.50,423.08 403.30,423.09 404.10,423.10 404.90,423.12 405.70,423.13 406.50,423.14 407.30,423.15 408.10,423.17 408.90,423.18 409.70,423.19 410.50,423.20 411.30,423.22 412.10,423.23 412.90,423.24 413.70,423.25 414.50,423.27 415.30,423.28 416.10,423.29 416.90,423.30 417.70,423.32 418.50,423.33 419.30,423.34 420.10,423.35 420.90,423.37 421.70,423.38 422.50,423.39 423.30,423.40 424.10,423.41 424.90,423.43 425.70,423.44 426.50,423.45 427.30,423.46 428.10,423.48 428.90,423.49 429.70,423.50 430.50,423.51 431.30,423.53 432.10,423.54 432.90,423.55 433.70,423.56 434.50,423.58 435.30,423.59" fill="none" stroke="#111" stroke-width="1.7" stroke-linejoin="round" />
<path d="M262.50,420.35 C264.50,420.27 270.50,419.84 274.50,419.89 C278.50,419.94 282.50,420.40 286.50,420.65 C290.50,420.90 294.50,421.22 298.50,421.38 C302.50,421.55 306.50,421.57 310.50,421.64 C314.50,421.72 318.50,421.77 322.50,421.83 C326.50,421.90 330.50,421.96 334.50,422.02 C338.50,422.08 342.50,422.14 346.50,422.21 C350.50,422.27 354.50,422.33 358.50,422.39 C362.50,422.46 366.50,422.52 370.50,422.58 C374.50,422.64 378.50,422.71 382.50,422.77 C386.50,422.83 390.50,422.89 394.50,422.95 C398.50,423.02 402.50,423.08 406.50,423.14 C410.50,423.20 414.50,423.27 418.50,423.33 C422.50,423.39 427.58,423.47 430.50,423.51 C433.42,423.56 435.08,423.59 436.00,423.60" fill="none" stroke="#111" stroke-width="1.0" />
<path d="M262.50,468.36 L263.30,468.31 L264.10,468.26 L264.90,468.21 L265.70,468.16 L266.50,468.11 L267.30,468.06 L268.10,468.01 L268.90,467.97 L269.70,467.93 L270.50,467.90 L271.30,467.88 L272.10,467.86 L272.90,467.85 L273.70,467.84 L274.50,467.85 L275.30,467.87 L276.10,467.89 L276.90,467.92 L277.70,467.97 L278.50,468.02 L279.30,468.07 L280.10,468.14 L280.90,468.21 L281.70,468.28 L282.50,468.36 L283.30,468.44 L284.10,468.52 L284.90,468.61 L285.70,468.69 L286.50,468.78 L287.30,468.86 L288.10,468.94 L288.90,469.01 L289.70,469.09 L290.50,469.16 L291.30,469.23 L292.10,469.29 L292.90,469.35 L293.70,469.40 L294.50,469.45 L295.30,469.50 L296.10,469.55 L296.90,469.59 L297.70,469.62 L298.50,469.66 L299.30,469.69 L300.10,469.72 L300.90,469.75 L301.70,469.77 L302.50,469.80 L303.30,469.82 L304.10,469.84 L304.90,469.86 L305.70,469.88 L306.50,469.90 L307.30,469.92 L308.10,469.94 L308.90,469.96 L309.70,469.98 L310.50,469.99 L311.30,470.01 L312.10,470.03 L312.90,470.04 L313.70,470.06 L314.50,470.08 L315.30,470.10 L316.10,470.11 L316.90,470.13 L317.70,470.15 L318.50,470.16 L319.30,470.18 L320.10,470.20 L320.90,470.21 L321.70,470.23 L322.50,470.24 L323.30,470.26 L324.10,470.28 L324.90,470.29 L325.70,470.31 L326.50,470.33 L327.30,470.34 L328.10,470.36 L328.90,470.38 L329.70,470.39 L330.50,470.41 L331.30,470.42 L332.10,470.43 L332.90,470.43 L333.70,470.41 L334.50,470.38 L335.30,470.31 L336.10,470.20 L336.90,470.02 L337.70,469.78 L338.50,469.45 L339.30,469.04 L340.10,468.54 L340.90,467.97 L341.70,467.36 L342.50,466.72 L343.30,466.11 L344.10,465.56 L344.90,465.09 L345.70,464.74 L346.50,464.51 L347.30,464.40 L348.10,464.38 L348.90,464.41 L349.70,464.53 L350.50,464.77 L351.30,465.12 L352.10,465.60 L352.90,466.16 L353.70,466.80 L354.50,467.46 L355.30,468.12 L356.10,468.73 L356.90,469.28 L357.70,469.75 L358.50,470.13 L359.30,470.43 L360.10,470.65 L360.90,470.81 L361.70,470.92 L362.50,471.00 L363.30,471.05 L364.10,471.08 L364.90,471.10 L365.70,471.10 L366.50,471.09 L367.30,471.06 L368.10,471.00 L368.90,470.91 L369.70,470.76 L370.50,470.57 L371.30,470.30 L372.10,469.98 L372.90,469.60 L373.70,469.17 L374.50,468.73 L375.30,468.28 L376.10,467.87 L376.90,467.50 L377.70,467.21 L378.50,467.01 L379.30,466.89 L380.10,466.85 L380.90,466.86 L381.70,466.92 L382.50,467.05 L383.30,467.26 L384.10,467.57 L384.90,467.95 L385.70,468.39 L386.50,468.86 L387.30,469.34 L388.10,469.81 L388.90,470.23 L389.70,470.61 L390.50,470.92 L391.30,471.16 L392.10,471.35 L392.90,471.49 L393.70,471.59 L394.50,471.66 L395.30,471.71 L396.10,471.75 L396.90,471.78 L397.70,471.80 L398.50,471.82 L399.30,471.84 L400.10,471.85 L400.90,471.87 L401.70,471.89 L402.50,471.90 L403.30,471.92 L404.10,471.94 L404.90,471.95 L405.70,471.97 L406.50,471.99 L407.30,472.00 L408.10,472.02 L408.90,472.04 L409.70,472.05 L410.50,472.07 L411.30,472.09 L412.10,472.10 L412.90,472.12 L413.70,472.14 L414.50,472.15 L415.30,472.17 L416.10,472.19 L416.90,472.20 L417.70,472.22 L418.50,472.24 L419.30,472.25 L420.10,472.27 L420.90,472.29 L421.70,472.30 L422.50,472.32 L423.30,472.34 L424.10,472.35 L424.90,472.37 L425.70,472.39 L426.50,472.40 L427.30,472.42 L428.10,472.44 L428.90,472.45 L429.70,472.47 L430.50,472.49 L431.30,472.50 L432.10,472.52 L432.90,472.54 L433.70,472.55 L434.50,472.57 L435.30,472.59 L435.30,472.59 L434.50,472.57 L433.70,472.55 L432.90,472.54 L432.10,472.52 L431.30,472.50 L430.50,472.49 L429.70,472.47 L428.90,472.45 L428.10,472.44 L427.30,472.42 L426.50,472.40 L425.70,472.39 L424.90,472.37 L424.10,472.35 L423.30,472.34 L422.50,472.32 L421.70,472.30 L420.90,472.29 L420.10,472.27 L419.30,472.25 L418.50,472.24 L417.70,472.22 L416.90,472.20 L416.10,472.19 L415.30,472.17 L414.50,472.15 L413.70,472.14 L412.90,472.12 L412.10,472.10 L411.30,472.09 L410.50,472.07 L409.70,472.05 L408.90,472.04 L408.10,472.02 L407.30,472.00 L406.50,471.99 L405.70,471.97 L404.90,471.95 L404.10,471.94 L403.30,471.92 L402.50,471.90 L401.70,471.89 L400.90,471.87 L400.10,471.86 L399.30,471.84 L398.50,471.82 L397.70,471.81 L396.90,471.79 L396.10,471.77 L395.30,471.76 L394.50,471.74 L393.70,471.72 L392.90,471.71 L392.10,471.69 L391.30,471.67 L390.50,471.66 L389.70,471.64 L388.90,471.62 L388.10,471.61 L387.30,471.59 L386.50,471.57 L385.70,471.56 L384.90,471.54 L384.10,471.52 L383.30,471.51 L382.50,471.49 L381.70,471.47 L380.90,471.46 L380.10,471.44 L379.30,471.42 L378.50,471.41 L377.70,471.39 L376.90,471.37 L376.10,471.36 L375.30,471.34 L374.50,471.32 L373.70,471.31 L372.90,471.29 L372.10,471.27 L371.30,471.26 L370.50,471.24 L369.70,471.22 L368.90,471.21 L368.10,471.19 L367.30,471.17 L366.50,471.16 L365.70,471.14 L364.90,471.12 L364.10,471.11 L363.30,471.09 L362.50,471.07 L361.70,471.06 L360.90,471.04 L360.10,471.03 L359.30,471.01 L358.50,470.99 L357.70,470.98 L356.90,470.96 L356.10,470.94 L355.30,470.93 L354.50,470.91 L353.70,470.89 L352.90,470.88 L352.10,470.86 L351.30,470.84 L350.50,470.83 L349.70,470.81 L348.90,470.79 L348.10,470.78 L347.30,470.76 L346.50,470.74 L345.70,470.73 L344.90,470.71 L344.10,470.69 L343.30,470.68 L342.50,470.66 L341.70,470.64 L340.90,470.63 L340.10,470.61 L339.30,470.59 L338.50,470.58 L337.70,470.56 L336.90,470.54 L336.10,470.53 L335.30,470.51 L334.50,470.49 L333.70,470.48 L332.90,470.46 L332.10,470.44 L331.30,470.43 L330.50,470.41 L329.70,470.39 L328.90,470.38 L328.10,470.36 L327.30,470.34 L326.50,470.33 L325.70,470.31 L324.90,470.29 L324.10,470.28 L323.30,470.26 L322.50,470.24 L321.70,470.23 L320.90,470.21 L320.10,470.20 L319.30,470.18 L318.50,470.16 L317.70,470.15 L316.90,470.13 L316.10,470.11 L315.30,470.10 L314.50,470.08 L313.70,470.06 L312.90,470.04 L312.10,470.03 L311.30,470.01 L310.50,469.99 L309.70,469.98 L308.90,469.96 L308.10,469.94 L307.30,469.92 L306.50,469.90 L305.70,469.88 L304.90,469.86 L304.10,469.84 L303.30,469.82 L302.50,469.80 L301.70,469.77 L300.90,469.75 L300.10,469.72 L299.30,469.69 L298.50,469.66 L297.70,469.62 L296.90,469.59 L296.10,469.55 L295.30,469.50 L294.50,469.45 L293.70,469.40 L292.90,469.35 L292.10,469.29 L291.30,469.23 L290.50,469.16 L289.70,469.09 L288.90,469.01 L288.10,468.94 L287.30,468.86 L286.50,468.78 L285.70,468.69 L284.90,468.61 L284.10,468.52 L283.30,468.44 L282.50,468.36 L281.70,468.28 L280.90,468.21 L280.10,468.14 L279.30,468.07 L278.50,468.02 L277.70,467.97 L276.90,467.92 L276.10,467.89 L275.30,467.87 L274.50,467.85 L273.70,467.84 L272.90,467.85 L272.10,467.86 L271.30,467.88 L270.50,467.90 L269.70,467.93 L268.90,467.97 L268.10,468.01 L267.30,468.06 L266.50,468.11 L265.70,468.16 L264.90,468.21 L264.10,468.26 L263.30,468.31 L262.50,468.36 Z" fill="#d8404c"/>
<polyline points="262.50,468.36 263.30,468.31 264.10,468.26 264.90,468.21 265.70,468.16 266.50,468.11 267.30,468.06 268.10,468.01 268.90,467.97 269.70,467.93 270.50,467.90 271.30,467.88 272.10,467.86 272.90,467.85 273.70,467.84 274.50,467.85 275.30,467.87 276.10,467.89 276.90,467.92 277.70,467.97 278.50,468.02 279.30,468.07 280.10,468.14 280.90,468.21 281.70,468.28 282.50,468.36 283.30,468.44 284.10,468.52 284.90,468.61 285.70,468.69 286.50,468.78 287.30,468.86 288.10,468.94 288.90,469.01 289.70,469.09 290.50,469.16 291.30,469.23 292.10,469.29 292.90,469.35 293.70,469.40 294.50,469.45 295.30,469.50 296.10,469.55 296.90,469.59 297.70,469.62 298.50,469.66 299.30,469.69 300.10,469.72 300.90,469.75 301.70,469.77 302.50,469.80 303.30,469.82 304.10,469.84 304.90,469.86 305.70,469.88 306.50,469.90 307.30,469.92 308.10,469.94 308.90,469.96 309.70,469.98 310.50,469.99 311.30,470.01 312.10,470.03 312.90,470.04 313.70,470.06 314.50,470.07 315.30,470.07 316.10,470.06 316.90,470.02 317.70,469.94 318.50,469.78 319.30,469.50 320.10,469.06 320.90,468.39 321.70,467.42 322.50,466.09 323.30,464.37 324.10,462.24 324.90,459.74 325.70,456.95 326.50,454.00 327.30,451.03 328.10,448.22 328.90,445.74 329.70,443.72 330.50,442.24 331.30,441.31 332.10,440.89 332.90,440.83 333.70,441.03 334.50,441.67 335.30,442.82 336.10,444.48 336.90,446.59 337.70,449.02 338.50,451.62 339.30,454.21 340.10,456.62 340.90,458.72 341.70,460.44 342.50,461.75 343.30,462.68 344.10,463.28 344.90,463.63 345.70,463.83 346.50,463.94 347.30,463.99 348.10,463.99 348.90,463.91 349.70,463.77 350.50,463.54 351.30,463.18 352.10,462.61 352.90,461.76 353.70,460.53 354.50,458.85 355.30,456.70 356.10,454.10 356.90,451.12 357.70,447.90 358.50,444.61 359.30,441.45 360.10,438.60 360.90,436.23 361.70,434.44 362.50,433.27 363.30,432.69 364.10,432.58 364.90,432.74 365.70,433.38 366.50,434.61 367.30,436.48 368.10,438.95 368.90,441.92 369.70,445.24 370.50,448.71 371.30,452.14 372.10,455.34 372.90,458.19 373.70,460.57 374.50,462.46 375.30,463.88 376.10,464.89 376.90,465.56 377.70,466.00 378.50,466.28 379.30,466.47 380.10,466.61 380.90,466.73 381.70,466.85 382.50,467.02 383.30,467.25 384.10,467.56 384.90,467.94 385.70,468.38 386.50,468.86 387.30,469.34 388.10,469.81 388.90,470.23 389.70,470.61 390.50,470.92 391.30,471.16 392.10,471.35 392.90,471.49 393.70,471.59 394.50,471.66 395.30,471.71 396.10,471.75 396.90,471.78 397.70,471.80 398.50,471.82 399.30,471.84 400.10,471.85 400.90,471.87 401.70,471.89 402.50,471.90 403.30,471.92 404.10,471.94 404.90,471.95 405.70,471.97 406.50,471.99 407.30,472.00 408.10,472.02 408.90,472.04 409.70,472.05 410.50,472.07 411.30,472.09 412.10,472.10 412.90,472.12 413.70,472.14 414.50,472.15 415.30,472.17 416.10,472.19 416.90,472.20 417.70,472.22 418.50,472.24 419.30,472.25 420.10,472.27 420.90,472.29 421.70,472.30 422.50,472.32 423.30,472.34 424.10,472.35 424.90,472.37 425.70,472.39 426.50,472.40 427.30,472.42 428.10,472.44 428.90,472.45 429.70,472.47 430.50,472.49 431.30,472.50 432.10,472.52 432.90,472.54 433.70,472.55 434.50,472.57 435.30,472.59" fill="none" stroke="#8a8a8a" stroke-width="2.2" stroke-linejoin="round" />
<polyline points="262.50,468.36 263.30,468.31 264.10,468.26 264.90,468.21 265.70,468.16 266.50,468.11 267.30,468.06 268.10,468.01 268.90,467.97 269.70,467.93 270.50,467.90 271.30,467.88 272.10,467.86 272.90,467.85 273.70,467.84 274.50,467.85 275.30,467.87 276.10,467.89 276.90,467.92 277.70,467.97 278.50,468.02 279.30,468.07 280.10,468.14 280.90,468.21 281.70,468.28 282.50,468.36 283.30,468.44 284.10,468.52 284.90,468.61 285.70,468.69 286.50,468.78 287.30,468.86 288.10,468.94 288.90,469.01 289.70,469.09 290.50,469.16 291.30,469.23 292.10,469.29 292.90,469.35 293.70,469.40 294.50,469.45 295.30,469.50 296.10,469.55 296.90,469.59 297.70,469.62 298.50,469.66 299.30,469.69 300.10,469.72 300.90,469.75 301.70,469.77 302.50,469.80 303.30,469.82 304.10,469.84 304.90,469.86 305.70,469.88 306.50,469.90 307.30,469.92 308.10,469.94 308.90,469.96 309.70,469.98 310.50,469.99 311.30,470.01 312.10,470.03 312.90,470.04 313.70,470.06 314.50,470.07 315.30,470.07 316.10,470.06 316.90,470.02 317.70,469.94 318.50,469.78 319.30,469.50 320.10,469.06 320.90,468.39 321.70,467.42 322.50,466.09 323.30,464.37 324.10,462.24 324.90,459.74 325.70,456.95 326.50,454.00 327.30,451.03 328.10,448.22 328.90,445.74 329.70,443.72 330.50,442.24 331.30,441.32 332.10,440.91 332.90,440.87 333.70,441.10 334.50,441.78 335.30,443.02 336.10,444.81 336.90,447.11 337.70,449.80 338.50,452.74 339.30,455.76 340.10,458.69 340.90,461.38 341.70,463.73 342.50,465.69 343.30,467.24 344.10,468.41 344.90,469.25 345.70,469.82 346.50,470.17 347.30,470.35 348.10,470.39 348.90,470.29 349.70,470.04 350.50,469.59 351.30,468.90 352.10,467.88 352.90,466.47 353.70,464.63 354.50,462.30 355.30,459.51 356.10,456.31 356.90,452.79 357.70,449.12 358.50,445.47 359.30,442.02 360.10,438.97 360.90,436.46 361.70,434.57 362.50,433.35 363.30,432.74 364.10,432.61 364.90,432.77 365.70,433.42 366.50,434.67 367.30,436.59 368.10,439.14 368.90,442.22 369.70,445.70 370.50,449.38 371.30,453.09 372.10,456.64 372.90,459.88 373.70,462.70 374.50,465.06 375.30,466.94 376.10,468.38 376.90,469.43 377.70,470.18 378.50,470.68 379.30,471.00 380.10,471.21 380.90,471.33 381.70,471.41 382.50,471.46 383.30,471.49 384.10,471.52 384.90,471.54 385.70,471.56 386.50,471.57 387.30,471.59 388.10,471.61 388.90,471.62 389.70,471.64 390.50,471.66 391.30,471.67 392.10,471.69 392.90,471.71 393.70,471.72 394.50,471.74 395.30,471.76 396.10,471.77 396.90,471.79 397.70,471.81 398.50,471.82 399.30,471.84 400.10,471.86 400.90,471.87 401.70,471.89 402.50,471.90 403.30,471.92 404.10,471.94 404.90,471.95 405.70,471.97 406.50,471.99 407.30,472.00 408.10,472.02 408.90,472.04 409.70,472.05 410.50,472.07 411.30,472.09 412.10,472.10 412.90,472.12 413.70,472.14 414.50,472.15 415.30,472.17 416.10,472.19 416.90,472.20 417.70,472.22 418.50,472.24 419.30,472.25 420.10,472.27 420.90,472.29 421.70,472.30 422.50,472.32 423.30,472.34 424.10,472.35 424.90,472.37 425.70,472.39 426.50,472.40 427.30,472.42 428.10,472.44 428.90,472.45 429.70,472.47 430.50,472.49 431.30,472.50 432.10,472.52 432.90,472.54 433.70,472.55 434.50,472.57 435.30,472.59" fill="none" stroke="#111" stroke-width="1.7" stroke-linejoin="round" />
<path d="M262.50,468.36 C264.50,468.27 270.50,467.78 274.50,467.85 C278.50,467.92 282.50,468.47 286.50,468.78 C290.50,469.08 294.50,469.46 298.50,469.66 C302.50,469.86 306.50,469.90 310.50,469.99 C314.50,470.09 318.50,470.16 322.50,470.24 C326.50,470.33 330.50,470.41 334.50,470.49 C338.50,470.58 342.50,470.66 346.50,470.74 C350.50,470.83 354.50,470.91 358.50,470.99 C362.50,471.07 366.50,471.16 370.50,471.24 C374.50,471.32 378.50,471.41 382.50,471.49 C386.50,471.57 390.50,471.66 394.50,471.74 C398.50,471.82 402.50,471.90 406.50,471.99 C410.50,472.07 414.50,472.15 418.50,472.24 C422.50,472.32 427.58,472.43 430.50,472.49 C433.42,472.55 435.08,472.58 436.00,472.60" fill="none" stroke="#7a1a22" stroke-width="1.0" />
<polyline points="262.50,516.85 263.30,516.81 264.10,516.76 264.90,516.72 265.70,516.67 266.50,516.63 267.30,516.59 268.10,516.54 268.90,516.51 269.70,516.47 270.50,516.44 271.30,516.42 272.10,516.40 272.90,516.39 273.70,516.39 274.50,516.40 275.30,516.41 276.10,516.43 276.90,516.45 277.70,516.49 278.50,516.53 279.30,516.58 280.10,516.63 280.90,516.69 281.70,516.75 282.50,516.82 283.30,516.89 284.10,516.96 284.90,517.03 285.70,517.10 286.50,517.17 287.30,517.24 288.10,517.30 288.90,517.37 289.70,517.43 290.50,517.49 291.30,517.55 292.10,517.60 292.90,517.65 293.70,517.69 294.50,517.74 295.30,517.78 296.10,517.81 296.90,517.85 297.70,517.88 298.50,517.91 299.30,517.93 300.10,517.96 300.90,517.98 301.70,518.00 302.50,518.02 303.30,518.04 304.10,518.05 304.90,518.07 305.70,518.09 306.50,518.10 307.30,518.12 308.10,518.13 308.90,518.14 309.70,518.16 310.50,518.17 311.30,518.19 312.10,518.20 312.90,518.21 313.70,518.23 314.50,518.24 315.30,518.25 316.10,518.26 316.90,518.27 317.70,518.27 318.50,518.26 319.30,518.23 320.10,518.15 320.90,518.02 321.70,517.78 322.50,517.40 323.30,516.81 324.10,515.96 324.90,514.79 325.70,513.27 326.50,511.37 327.30,509.13 328.10,506.61 328.90,503.92 329.70,501.20 330.50,498.61 331.30,496.30 332.10,494.40 332.90,492.98 333.70,492.08 334.50,491.65 335.30,491.58 336.10,491.74 336.90,492.31 337.70,493.37 338.50,494.94 339.30,496.98 340.10,499.40 340.90,502.06 341.70,504.81 342.50,507.49 343.30,509.98 344.10,512.16 344.90,513.99 345.70,515.45 346.50,516.55 347.30,517.33 348.10,517.85 348.90,518.14 349.70,518.25 350.50,518.18 351.30,517.91 352.10,517.43 352.90,516.67 353.70,515.58 354.50,514.10 355.30,512.18 356.10,509.80 356.90,507.00 357.70,503.83 358.50,500.42 359.30,496.92 360.10,493.51 360.90,490.37 361.70,487.65 362.50,485.48 363.30,483.92 364.10,482.99 364.90,482.60 365.70,482.58 366.50,482.88 367.30,483.69 368.10,485.12 368.90,487.16 369.70,489.78 370.50,492.86 371.30,496.25 372.10,499.77 372.90,503.24 373.70,506.51 374.50,509.43 375.30,511.95 376.10,514.01 376.90,515.63 377.70,516.84 378.50,517.72 379.30,518.33 380.10,518.73 380.90,518.99 381.70,519.15 382.50,519.25 383.30,519.30 384.10,519.34 384.90,519.37 385.70,519.38 386.50,519.40 387.30,519.41 388.10,519.43 388.90,519.44 389.70,519.45 390.50,519.47 391.30,519.48 392.10,519.49 392.90,519.50 393.70,519.52 394.50,519.53 395.30,519.54 396.10,519.56 396.90,519.57 397.70,519.58 398.50,519.59 399.30,519.61 400.10,519.62 400.90,519.63 401.70,519.65 402.50,519.66 403.30,519.67 404.10,519.69 404.90,519.70 405.70,519.71 406.50,519.72 407.30,519.74 408.10,519.75 408.90,519.76 409.70,519.78 410.50,519.79 411.30,519.80 412.10,519.81 412.90,519.83 413.70,519.84 414.50,519.85 415.30,519.87 416.10,519.88 416.90,519.89 417.70,519.90 418.50,519.92 419.30,519.93 420.10,519.94 420.90,519.96 421.70,519.97 422.50,519.98 423.30,520.00 424.10,520.01 424.90,520.02 425.70,520.03 426.50,520.05 427.30,520.06 428.10,520.07 428.90,520.09 429.70,520.10 430.50,520.11 431.30,520.12 432.10,520.14 432.90,520.15 433.70,520.16 434.50,520.18 435.30,520.19" fill="none" stroke="#9a9a9a" stroke-width="2.2" stroke-linejoin="round" />
<polyline points="262.50,516.85 263.30,516.81 264.10,516.76 264.90,516.72 265.70,516.67 266.50,516.63 267.30,516.59 268.10,516.54 268.90,516.51 269.70,516.47 270.50,516.44 271.30,516.42 272.10,516.40 272.90,516.39 273.70,516.39 274.50,516.40 275.30,516.41 276.10,516.43 276.90,516.45 277.70,516.49 278.50,516.53 279.30,516.58 280.10,516.63 280.90,516.69 281.70,516.75 282.50,516.82 283.30,516.89 284.10,516.96 284.90,517.03 285.70,517.10 286.50,517.17 287.30,517.24 288.10,517.30 288.90,517.37 289.70,517.43 290.50,517.49 291.30,517.55 292.10,517.60 292.90,517.65 293.70,517.69 294.50,517.74 295.30,517.78 296.10,517.81 296.90,517.85 297.70,517.88 298.50,517.91 299.30,517.93 300.10,517.96 300.90,517.98 301.70,518.00 302.50,518.02 303.30,518.04 304.10,518.05 304.90,518.07 305.70,518.09 306.50,518.10 307.30,518.12 308.10,518.13 308.90,518.14 309.70,518.16 310.50,518.17 311.30,518.19 312.10,518.20 312.90,518.21 313.70,518.23 314.50,518.24 315.30,518.25 316.10,518.26 316.90,518.27 317.70,518.27 318.50,518.26 319.30,518.23 320.10,518.15 320.90,518.02 321.70,517.78 322.50,517.40 323.30,516.81 324.10,515.96 324.90,514.79 325.70,513.27 326.50,511.37 327.30,509.13 328.10,506.61 328.90,503.92 329.70,501.20 330.50,498.61 331.30,496.30 332.10,494.40 332.90,492.98 333.70,492.08 334.50,491.65 335.30,491.58 336.10,491.74 336.90,492.31 337.70,493.37 338.50,494.94 339.30,496.98 340.10,499.40 340.90,502.06 341.70,504.81 342.50,507.49 343.30,509.98 344.10,512.16 344.90,513.99 345.70,515.45 346.50,516.55 347.30,517.33 348.10,517.85 348.90,518.14 349.70,518.25 350.50,518.18 351.30,517.91 352.10,517.43 352.90,516.67 353.70,515.58 354.50,514.10 355.30,512.18 356.10,509.80 356.90,507.00 357.70,503.83 358.50,500.42 359.30,496.92 360.10,493.51 360.90,490.37 361.70,487.65 362.50,485.48 363.30,483.92 364.10,482.99 364.90,482.60 365.70,482.58 366.50,482.88 367.30,483.69 368.10,485.12 368.90,487.16 369.70,489.78 370.50,492.86 371.30,496.25 372.10,499.77 372.90,503.24 373.70,506.51 374.50,509.43 375.30,511.95 376.10,514.01 376.90,515.63 377.70,516.84 378.50,517.72 379.30,518.33 380.10,518.73 380.90,518.99 381.70,519.15 382.50,519.25 383.30,519.30 384.10,519.34 384.90,519.37 385.70,519.38 386.50,519.40 387.30,519.41 388.10,519.43 388.90,519.44 389.70,519.45 390.50,519.47 391.30,519.48 392.10,519.49 392.90,519.50 393.70,519.52 394.50,519.53 395.30,519.54 396.10,519.56 396.90,519.57 397.70,519.58 398.50,519.59 399.30,519.61 400.10,519.62 400.90,519.63 401.70,519.65 402.50,519.66 403.30,519.67 404.10,519.69 404.90,519.70 405.70,519.71 406.50,519.72 407.30,519.74 408.10,519.75 408.90,519.76 409.70,519.78 410.50,519.79 411.30,519.80 412.10,519.81 412.90,519.83 413.70,519.84 414.50,519.85 415.30,519.87 416.10,519.88 416.90,519.89 417.70,519.90 418.50,519.92 419.30,519.93 420.10,519.94 420.90,519.96 421.70,519.97 422.50,519.98 423.30,520.00 424.10,520.01 424.90,520.02 425.70,520.03 426.50,520.05 427.30,520.06 428.10,520.07 428.90,520.09 429.70,520.10 430.50,520.11 431.30,520.12 432.10,520.14 432.90,520.15 433.70,520.16 434.50,520.18 435.30,520.19" fill="none" stroke="#111" stroke-width="1.7" stroke-linejoin="round" />
<path d="M262.50,516.85 C264.50,516.77 270.50,516.34 274.50,516.40 C278.50,516.45 282.50,516.92 286.50,517.17 C290.50,517.42 294.50,517.74 298.50,517.91 C302.50,518.07 306.50,518.10 310.50,518.17 C314.50,518.25 318.50,518.30 322.50,518.37 C326.50,518.43 330.50,518.50 334.50,518.56 C338.50,518.63 342.50,518.69 346.50,518.76 C350.50,518.82 354.50,518.88 358.50,518.95 C362.50,519.01 366.50,519.08 370.50,519.14 C374.50,519.21 378.50,519.27 382.50,519.34 C386.50,519.40 390.50,519.47 394.50,519.53 C398.50,519.59 402.50,519.66 406.50,519.72 C410.50,519.79 414.50,519.85 418.50,519.92 C422.50,519.98 427.58,520.06 430.50,520.11 C433.42,520.16 435.08,520.19 436.00,520.20" fill="none" stroke="#111" stroke-width="1.0" />
<line x1="328.40" y1="393.50" x2="328.40" y2="431.00" stroke="#444" stroke-width="1.1" stroke-dasharray="3.4,2"/>
<line x1="332.70" y1="437.50" x2="332.70" y2="488.50" stroke="#444" stroke-width="1.1" stroke-dasharray="3.4,2"/>
<line x1="335.30" y1="495.00" x2="335.30" y2="503.00" stroke="#444" stroke-width="1.1" stroke-dasharray="3.4,2"/>
<line x1="335.20" y1="432.40" x2="321.50" y2="432.40" stroke="#ff3a3a" stroke-width="1.0" />
<polygon points="318.00,432.40 322.00,430.40 321.20,432.40 322.00,434.40" fill="#ff3a3a" />
<line x1="341.60" y1="483.50" x2="328.20" y2="483.50" stroke="#ff3a3a" stroke-width="1.0" />
<polygon points="324.70,483.50 328.70,481.50 327.90,483.50 328.70,485.50" fill="#ff3a3a" />
<rect x="262.5" y="382.2" width="173.5" height="142.00000000000006" fill="none" stroke="#2a2a2a" stroke-width="1.1"/>
<line x1="262.50" y1="429.20" x2="436.00" y2="429.20" stroke="#333" stroke-width="1.0" />
<line x1="262.50" y1="476.80" x2="436.00" y2="476.80" stroke="#aaa" stroke-width="1.6" />
<line x1="262.50" y1="524.20" x2="262.50" y2="527.50" stroke="#222" stroke-width="1" />
<text x="262.00" y="537.30" font-size="10" text-anchor="middle" font-weight="normal" fill="#1a1a1a" style="color:#1a1a1a" >42</text>
<line x1="291.42" y1="524.20" x2="291.42" y2="527.50" stroke="#222" stroke-width="1" />
<text x="290.92" y="537.30" font-size="10" text-anchor="middle" font-weight="normal" fill="#1a1a1a" style="color:#1a1a1a" >40</text>
<line x1="320.33" y1="524.20" x2="320.33" y2="527.50" stroke="#222" stroke-width="1" />
<text x="319.83" y="537.30" font-size="10" text-anchor="middle" font-weight="normal" fill="#1a1a1a" style="color:#1a1a1a" >38</text>
<line x1="349.25" y1="524.20" x2="349.25" y2="527.50" stroke="#222" stroke-width="1" />
<text x="348.75" y="537.30" font-size="10" text-anchor="middle" font-weight="normal" fill="#1a1a1a" style="color:#1a1a1a" >36</text>
<line x1="378.17" y1="524.20" x2="378.17" y2="527.50" stroke="#222" stroke-width="1" />
<text x="377.67" y="537.30" font-size="10" text-anchor="middle" font-weight="normal" fill="#1a1a1a" style="color:#1a1a1a" >34</text>
<line x1="407.08" y1="524.20" x2="407.08" y2="527.50" stroke="#222" stroke-width="1" />
<text x="406.58" y="537.30" font-size="10" text-anchor="middle" font-weight="normal" fill="#1a1a1a" style="color:#1a1a1a" >32</text>
<line x1="436.00" y1="524.20" x2="436.00" y2="527.50" stroke="#222" stroke-width="1" />
<text x="435.50" y="537.30" font-size="10" text-anchor="middle" font-weight="normal" fill="#1a1a1a" style="color:#1a1a1a" >30</text>
<line x1="276.96" y1="524.20" x2="276.96" y2="526.20" stroke="#222" stroke-width="1" />
<line x1="305.88" y1="524.20" x2="305.88" y2="526.20" stroke="#222" stroke-width="1" />
<line x1="334.79" y1="524.20" x2="334.79" y2="526.20" stroke="#222" stroke-width="1" />
<line x1="363.71" y1="524.20" x2="363.71" y2="526.20" stroke="#222" stroke-width="1" />
<line x1="392.62" y1="524.20" x2="392.62" y2="526.20" stroke="#222" stroke-width="1" />
<line x1="421.54" y1="524.20" x2="421.54" y2="526.20" stroke="#222" stroke-width="1" />
<text x="349.20" y="551.50" font-size="11.6" text-anchor="middle" font-weight="normal" fill="#1a1a1a" style="color:#1a1a1a" >Binding Energy (eV)</text>
<text transform="translate(253.00,450.50) rotate(-90)" font-size="11.6" text-anchor="middle" fill="#1a1a1a">Intensity (arb. units)</text>
<text x="277.50" y="402.90" font-size="10.2" text-anchor="start" font-weight="normal" fill="#1a1a1a" style="color:#1a1a1a" >0.29 eV</text>
<text x="388.40" y="400.70" font-size="10" text-anchor="start" font-weight="normal" fill="#1a1a1a" style="color:#1a1a1a" >Blenched</text>
<text x="392.00" y="448.70" font-size="10" text-anchor="start" font-weight="normal" fill="#1a1a1a" style="color:#1a1a1a" >Colored</text>
<text x="392.50" y="495.90" font-size="10" text-anchor="start" font-weight="normal" fill="#1a1a1a" style="color:#1a1a1a" >Pristine</text>
<line x1="264.90" y1="483.70" x2="279.90" y2="483.70" stroke="#555" stroke-width="2.6" />
<text x="282" y="487.8" font-size="11.2" fill="#1a1a1a">W<tspan font-size="7.6" dx="0.4" dy="-3.6">6+</tspan></text>
<line x1="264.90" y1="495.80" x2="279.90" y2="495.80" stroke="#ea7a82" stroke-width="2.6" />
<text x="282.6" y="500.5" font-size="11.2" fill="#1a1a1a">W<tspan font-size="7.6" dx="0.4" dy="-3.6">5+</tspan></text>
<line x1="264.90" y1="508.80" x2="279.90" y2="508.80" stroke="#444" stroke-width="1.6" />
<circle cx="272.6" cy="508.8" r="1.7" fill="#fff" stroke="#333" stroke-width="0.8"/>
<text x="283.1" y="512.9" font-size="11.2" fill="#1a1a1a" word-spacing="1.2">W 4<tspan font-style="italic" dx="0.3">f</tspan></text>
<text x="447.70" y="383.70" font-size="12.8" text-anchor="start" font-weight="bold" fill="#111" style="color:#111" >h</text>
<polyline points="488.50,523.05 489.40,523.08 490.30,523.35 491.20,523.50 492.10,523.63 493.00,523.54 493.80,523.68 494.60,523.25 495.40,523.34 496.20,522.96 497.00,522.81 497.93,522.72 498.87,522.56 499.80,522.60 501.40,519.52 502.40,507.87 503.20,485.18 503.90,444.95 504.50,412.86 505.30,429.87 506.30,455.10 507.40,478.17 508.50,491.86 509.40,485.81 510.20,478.11 511.00,469.90 512.50,461.19 513.60,458.80 514.80,464.15 516.20,471.83 517.30,475.83 518.60,468.96 519.40,466.81 520.20,465.44 521.80,460.57 522.60,457.26 523.40,452.52 524.60,450.16 525.80,455.89 527.20,465.40 528.60,470.94 529.40,473.15 530.20,473.78 531.50,473.51 532.60,478.07 533.40,481.31 534.20,478.84 535.00,477.40 535.83,477.76 536.67,478.51 537.50,478.36 538.33,479.12 539.17,481.29 540.00,481.84 541.00,479.77 542.00,480.19 543.00,479.82 544.00,482.17 545.50,482.18 546.45,485.62 547.40,487.39" fill="none" stroke="#8e1c2c" stroke-width="1.3" stroke-linejoin="round" />
<polyline points="548.50,522.91 549.30,522.98 550.10,522.88 550.90,522.54 551.70,522.43 552.63,522.86 553.57,523.39 554.50,523.46 555.38,523.57 556.25,523.44 557.12,523.28 558.00,523.23 558.90,521.30 559.80,518.98 560.80,510.15 561.50,496.94 562.20,470.11 563.20,440.15 564.30,431.07 565.20,445.15 566.10,461.80 567.30,475.92 568.80,483.91 569.60,479.39 570.40,475.19 571.30,469.80 572.20,465.45 573.80,461.02 575.30,469.26 576.10,472.06 576.90,475.64 577.70,472.20 578.50,467.55 579.90,463.22 580.95,461.16 582.00,458.24 583.05,457.07 584.10,455.83 584.95,457.64 585.80,460.71 586.75,466.05 587.70,470.15 589.00,472.89 590.40,477.81 591.20,476.26 592.00,475.83 593.00,477.30 594.00,479.35 594.83,480.84 595.67,478.39 596.50,478.91 597.47,477.62 598.43,479.04 599.40,478.73 600.45,480.13 601.50,480.23 602.65,482.09 603.80,481.46 604.65,483.22 605.50,483.00 607.00,484.57" fill="none" stroke="#e2476a" stroke-width="1.3" stroke-linejoin="round" />
<polyline points="608.20,523.34 609.15,523.30 610.10,523.37 611.05,523.04 612.00,522.89 612.80,523.15 613.60,523.07 614.40,522.97 615.20,522.75 616.00,522.67 617.03,522.37 618.07,521.96 619.10,521.62 620.20,517.00 620.90,511.96 621.70,500.02 622.40,484.95 623.30,444.80 624.20,413.08 625.20,430.06 626.40,458.02 627.40,477.02 628.60,488.48 629.80,482.19 631.20,468.15 632.50,460.24 633.60,456.09 634.80,462.80 635.60,469.66 636.40,477.02 637.80,471.88 638.65,467.87 639.50,463.90 640.35,461.11 641.20,459.55 642.80,451.46 644.10,449.32 645.50,456.47 647.00,466.41 647.70,473.77 649.20,476.70 650.70,478.88 651.85,477.78 653.00,476.58 653.92,478.82 654.85,479.18 655.78,479.98 656.70,478.42 657.85,480.97 659.00,481.08 659.83,481.35 660.67,480.62 661.50,479.56 662.33,481.80 663.17,480.14 664.00,482.59 665.10,483.85 666.20,484.02" fill="none" stroke="#2c5eaa" stroke-width="1.3" stroke-linejoin="round" />
<rect x="488.0" y="381.7" width="178.5" height="142.40000000000003" fill="none" stroke="#1e1e1e" stroke-width="1.1"/>
<line x1="547.60" y1="381.70" x2="547.60" y2="524.10" stroke="#1e1e1e" stroke-width="1.0" />
<line x1="607.60" y1="381.70" x2="607.60" y2="524.10" stroke="#1e1e1e" stroke-width="1.0" />
<line x1="488.00" y1="524.10" x2="488.00" y2="527.40" stroke="#222" stroke-width="1" />
<text x="486.20" y="537.90" font-size="10" text-anchor="middle" font-weight="normal" fill="#1a1a1a" style="color:#1a1a1a" >520</text>
<line x1="517.75" y1="524.10" x2="517.75" y2="527.40" stroke="#222" stroke-width="1" />
<text x="515.95" y="537.90" font-size="10" text-anchor="middle" font-weight="normal" fill="#1a1a1a" style="color:#1a1a1a" >540</text>
<line x1="502.88" y1="524.10" x2="502.88" y2="526.10" stroke="#222" stroke-width="1" />
<line x1="532.62" y1="524.10" x2="532.62" y2="526.10" stroke="#222" stroke-width="1" />
<line x1="547.60" y1="524.10" x2="547.60" y2="527.40" stroke="#222" stroke-width="1" />
<text x="545.80" y="537.90" font-size="10" text-anchor="middle" font-weight="normal" fill="#1a1a1a" style="color:#1a1a1a" >520</text>
<line x1="577.35" y1="524.10" x2="577.35" y2="527.40" stroke="#222" stroke-width="1" />
<text x="575.55" y="537.90" font-size="10" text-anchor="middle" font-weight="normal" fill="#1a1a1a" style="color:#1a1a1a" >540</text>
<line x1="562.48" y1="524.10" x2="562.48" y2="526.10" stroke="#222" stroke-width="1" />
<line x1="592.23" y1="524.10" x2="592.23" y2="526.10" stroke="#222" stroke-width="1" />
<line x1="607.60" y1="524.10" x2="607.60" y2="527.40" stroke="#222" stroke-width="1" />
<text x="605.80" y="537.90" font-size="10" text-anchor="middle" font-weight="normal" fill="#1a1a1a" style="color:#1a1a1a" >520</text>
<line x1="637.35" y1="524.10" x2="637.35" y2="527.40" stroke="#222" stroke-width="1" />
<text x="635.55" y="537.90" font-size="10" text-anchor="middle" font-weight="normal" fill="#1a1a1a" style="color:#1a1a1a" >540</text>
<line x1="667.10" y1="524.10" x2="667.10" y2="527.40" stroke="#222" stroke-width="1" />
<text x="665.30" y="537.90" font-size="10" text-anchor="middle" font-weight="normal" fill="#1a1a1a" style="color:#1a1a1a" >560</text>
<line x1="622.48" y1="524.10" x2="622.48" y2="526.10" stroke="#222" stroke-width="1" />
<line x1="652.23" y1="524.10" x2="652.23" y2="526.10" stroke="#222" stroke-width="1" />
<text x="579.50" y="551.80" font-size="11.6" text-anchor="middle" font-weight="normal" fill="#1a1a1a" style="color:#1a1a1a" >Energy Loss (eV)</text>
<text transform="translate(474.00,463.00) rotate(-90)" font-size="11.7" text-anchor="middle" fill="#1a1a1a">Normalized intensity (arb. units)</text>
<text x="500.70" y="396.60" font-size="10" text-anchor="start" font-weight="normal" fill="#1a1a1a" style="color:#1a1a1a" >Pristine</text>
<text x="558.90" y="397.00" font-size="10" text-anchor="start" font-weight="normal" fill="#1a1a1a" style="color:#1a1a1a" >Colored</text>
<text x="614.10" y="397.00" font-size="10" text-anchor="start" font-weight="normal" fill="#1a1a1a" style="color:#1a1a1a" >Bleached</text>
<line x1="504.50" y1="412.80" x2="564.30" y2="431.10" stroke="#333" stroke-width="0.7" stroke-dasharray="1.4,1.3"/>
<line x1="564.30" y1="431.10" x2="624.20" y2="413.30" stroke="#333" stroke-width="0.7" stroke-dasharray="1.4,1.3"/>
<text x="503.80" y="410.10" font-size="10" text-anchor="middle" font-weight="normal" fill="#1a1a1a" style="color:#1a1a1a" >A</text>
<text x="512.50" y="454.10" font-size="10" text-anchor="middle" font-weight="normal" fill="#1a1a1a" style="color:#1a1a1a" >B</text>
<text x="523.70" y="447.00" font-size="10" text-anchor="middle" font-weight="normal" fill="#1a1a1a" style="color:#1a1a1a" >C</text>
<text x="563.60" y="426.80" font-size="10" text-anchor="middle" font-weight="normal" fill="#1a1a1a" style="color:#1a1a1a" >A</text>
<text x="571.70" y="459.50" font-size="10" text-anchor="middle" font-weight="normal" fill="#1a1a1a" style="color:#1a1a1a" >B</text>
<text x="583.50" y="451.40" font-size="10" text-anchor="middle" font-weight="normal" fill="#1a1a1a" style="color:#1a1a1a" >C</text>
<text x="623.00" y="411.90" font-size="10" text-anchor="middle" font-weight="normal" fill="#1a1a1a" style="color:#1a1a1a" >A</text>
<text x="632.00" y="453.60" font-size="10" text-anchor="middle" font-weight="normal" fill="#1a1a1a" style="color:#1a1a1a" >B</text>
<text x="644.00" y="445.20" font-size="10" text-anchor="middle" font-weight="normal" fill="#1a1a1a" style="color:#1a1a1a" >C</text>
</svg></body></html>
